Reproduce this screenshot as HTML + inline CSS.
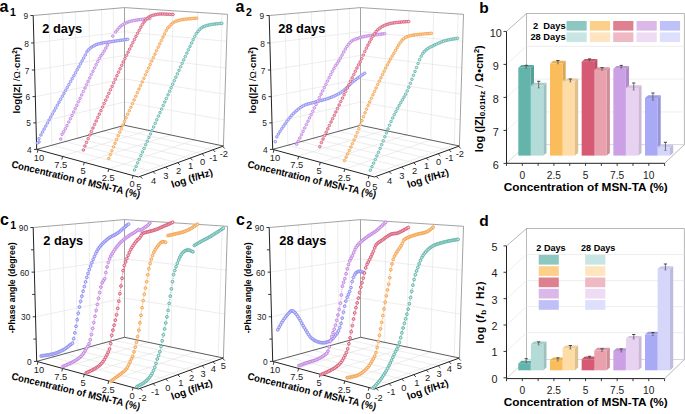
<!DOCTYPE html>
<html><head><meta charset="utf-8"><style>
html,body{margin:0;padding:0;background:#fff;}
svg{display:block;}
text{font-family:"Liberation Sans", sans-serif;}
</style></head><body>
<svg width="685" height="414" viewBox="0 0 685 414">
<rect width="685" height="414" fill="#fff"/>
<g font-family="Liberation Sans, sans-serif">
<line x1="48.99" y1="14.13" x2="51.89" y2="145.23" stroke="#e0e0e0" stroke-width="0.6" />
<line x1="62.6" y1="12.96" x2="64.97" y2="141.64" stroke="#e0e0e0" stroke-width="0.6" />
<line x1="75.38" y1="11.85" x2="77.26" y2="138.27" stroke="#e0e0e0" stroke-width="0.6" />
<line x1="88.98" y1="10.67" x2="90.35" y2="134.67" stroke="#e0e0e0" stroke-width="0.6" />
<line x1="101.67" y1="9.57" x2="102.55" y2="131.32" stroke="#e0e0e0" stroke-width="0.6" />
<line x1="113.36" y1="8.56" x2="113.79" y2="128.24" stroke="#e0e0e0" stroke-width="0.6" />
<line x1="149.74" y1="9.24" x2="148.73" y2="130.37" stroke="#e0e0e0" stroke-width="0.6" />
<line x1="172.91" y1="10.75" x2="170.98" y2="135.03" stroke="#e0e0e0" stroke-width="0.6" />
<line x1="197.63" y1="12.36" x2="194.72" y2="140" stroke="#e0e0e0" stroke-width="0.6" />
<line x1="222.14" y1="13.95" x2="218.26" y2="144.92" stroke="#e0e0e0" stroke-width="0.6" />
<path d="M36.01,122.89 L124.5,102 L224.21,119.92" stroke="#e0e0e0" stroke-width="0.6" fill="none" />
<path d="M35.32,96.64 L124.5,78.93 L225.02,94.11" stroke="#e0e0e0" stroke-width="0.6" fill="none" />
<path d="M34.62,70 L124.5,55.5 L225.83,67.9" stroke="#e0e0e0" stroke-width="0.6" fill="none" />
<path d="M33.92,42.95 L124.5,31.73 L226.66,41.3" stroke="#e0e0e0" stroke-width="0.6" fill="none" />
<line x1="51.89" y1="145.23" x2="153.11" y2="171.64" stroke="#e0e0e0" stroke-width="0.6" />
<line x1="64.97" y1="141.64" x2="165.77" y2="167.02" stroke="#e0e0e0" stroke-width="0.6" />
<line x1="77.26" y1="138.27" x2="177.67" y2="162.68" stroke="#e0e0e0" stroke-width="0.6" />
<line x1="90.35" y1="134.67" x2="190.34" y2="158.06" stroke="#e0e0e0" stroke-width="0.6" />
<line x1="102.55" y1="131.32" x2="202.15" y2="153.75" stroke="#e0e0e0" stroke-width="0.6" />
<line x1="113.79" y1="128.24" x2="213.03" y2="149.78" stroke="#e0e0e0" stroke-width="0.6" />
<line x1="61.62" y1="156.16" x2="148.73" y2="130.37" stroke="#e0e0e0" stroke-width="0.6" />
<line x1="84.5" y1="162.37" x2="170.98" y2="135.03" stroke="#e0e0e0" stroke-width="0.6" />
<line x1="108.91" y1="169" x2="194.72" y2="140" stroke="#e0e0e0" stroke-width="0.6" />
<line x1="133.11" y1="175.56" x2="218.26" y2="144.92" stroke="#e0e0e0" stroke-width="0.6" />
<path d="M33.2,15.5 L124.5,7.6 L227.5,14.3 L223.4,146" stroke="#8c8c8c" stroke-width="0.8" fill="none" />
<line x1="124.5" y1="7.6" x2="124.5" y2="125.3" stroke="#a4a4a4" stroke-width="1.0" />
<path d="M36.7,149.4 L124.5,125.3 L223.4,146" stroke="#333" stroke-width="0.8" fill="none" />
<line x1="33.2" y1="15.5" x2="36.7" y2="149.4" stroke="#222" stroke-width="1.0" />
<path d="M36.7,149.4 L138.4,177 L223.4,146" stroke="#222" stroke-width="1.0" fill="none" />
<line x1="33.9" y1="149.4" x2="36.7" y2="149.4" stroke="#222" stroke-width="0.9" />
<text x="31.6" y="153" font-size="8.4" font-weight="normal" text-anchor="end" fill="#222" >4</text>
<line x1="33.21" y1="122.89" x2="36.01" y2="122.89" stroke="#222" stroke-width="0.9" />
<text x="30.91" y="126.49" font-size="8.4" font-weight="normal" text-anchor="end" fill="#222" >5</text>
<line x1="32.52" y1="96.64" x2="35.32" y2="96.64" stroke="#222" stroke-width="0.9" />
<text x="30.22" y="100.24" font-size="8.4" font-weight="normal" text-anchor="end" fill="#222" >6</text>
<line x1="31.82" y1="70" x2="34.62" y2="70" stroke="#222" stroke-width="0.9" />
<text x="29.52" y="73.6" font-size="8.4" font-weight="normal" text-anchor="end" fill="#222" >7</text>
<line x1="31.12" y1="42.95" x2="33.92" y2="42.95" stroke="#222" stroke-width="0.9" />
<text x="28.82" y="46.55" font-size="8.4" font-weight="normal" text-anchor="end" fill="#222" >8</text>
<line x1="30.4" y1="15.5" x2="33.2" y2="15.5" stroke="#222" stroke-width="0.9" />
<text x="28.1" y="19.1" font-size="8.4" font-weight="normal" text-anchor="end" fill="#222" >9</text>
<line x1="38.02" y1="149.76" x2="37.22" y2="152.76" stroke="#222" stroke-width="0.9" />
<line x1="62.63" y1="156.44" x2="61.83" y2="159.44" stroke="#222" stroke-width="0.9" />
<line x1="84.3" y1="162.32" x2="83.5" y2="165.32" stroke="#222" stroke-width="0.9" />
<line x1="108.81" y1="168.97" x2="108.01" y2="171.97" stroke="#222" stroke-width="0.9" />
<line x1="133.11" y1="175.56" x2="132.31" y2="178.56" stroke="#222" stroke-width="0.9" />
<line x1="140.1" y1="176.38" x2="142.3" y2="178.58" stroke="#222" stroke-width="0.9" />
<line x1="153.11" y1="171.64" x2="155.31" y2="173.84" stroke="#222" stroke-width="0.9" />
<line x1="165.77" y1="167.02" x2="167.97" y2="169.22" stroke="#222" stroke-width="0.9" />
<line x1="177.67" y1="162.68" x2="179.87" y2="164.88" stroke="#222" stroke-width="0.9" />
<line x1="190.34" y1="158.06" x2="192.53" y2="160.26" stroke="#222" stroke-width="0.9" />
<line x1="202.15" y1="153.75" x2="204.35" y2="155.95" stroke="#222" stroke-width="0.9" />
<line x1="213.03" y1="149.78" x2="215.23" y2="151.98" stroke="#222" stroke-width="0.9" />
<line x1="222.55" y1="146.31" x2="224.75" y2="148.51" stroke="#222" stroke-width="0.9" />
<g fill="#d6d6fb" stroke="#8c8cf0" stroke-width="0.85"><circle cx="39" cy="142" r="1.3"/><circle cx="37.35" cy="143.06" r="1.3"/><circle cx="38.98" cy="138.71" r="1.3"/><circle cx="40.9" cy="135" r="1.3"/><circle cx="42.5" cy="132.02" r="1.3"/><circle cx="44.11" cy="129.06" r="1.3"/><circle cx="45.79" cy="126.01" r="1.3"/><circle cx="47.44" cy="123.01" r="1.3"/><circle cx="49.12" cy="119.97" r="1.3"/><circle cx="50.79" cy="116.97" r="1.3"/><circle cx="52.42" cy="114.04" r="1.3"/><circle cx="54.1" cy="111.02" r="1.3"/><circle cx="55.7" cy="108.14" r="1.3"/><circle cx="57.34" cy="105.21" r="1.3"/><circle cx="59" cy="102.24" r="1.3"/><circle cx="60.66" cy="99.26" r="1.3"/><circle cx="62.34" cy="96.27" r="1.3"/><circle cx="64" cy="93.29" r="1.3"/><circle cx="65.66" cy="90.34" r="1.3"/><circle cx="67.29" cy="87.42" r="1.3"/><circle cx="68.89" cy="84.56" r="1.3"/><circle cx="70.57" cy="81.57" r="1.3"/><circle cx="72.19" cy="78.68" r="1.3"/><circle cx="73.85" cy="75.72" r="1.3"/><circle cx="75.51" cy="72.74" r="1.3"/><circle cx="77.16" cy="69.8" r="1.3"/><circle cx="78.81" cy="66.83" r="1.3"/><circle cx="80.47" cy="63.86" r="1.3"/><circle cx="82.09" cy="60.94" r="1.3"/><circle cx="83.69" cy="58.01" r="1.3"/><circle cx="85.28" cy="55.01" r="1.3"/><circle cx="86.85" cy="51.87" r="1.3"/><circle cx="88.5" cy="49.81" r="1.3"/><circle cx="90.17" cy="48.23" r="1.3"/><circle cx="91.86" cy="47.01" r="1.3"/><circle cx="93.56" cy="45.97" r="1.3"/><circle cx="95.25" cy="45.12" r="1.3"/><circle cx="96.95" cy="44.44" r="1.3"/><circle cx="98.66" cy="43.87" r="1.3"/><circle cx="100.36" cy="43.38" r="1.3"/><circle cx="102.06" cy="43" r="1.3"/><circle cx="103.76" cy="42.71" r="1.3"/><circle cx="105.48" cy="42.48" r="1.3"/><circle cx="107.18" cy="42.26" r="1.3"/><circle cx="108.89" cy="42.02" r="1.3"/><circle cx="110.59" cy="41.76" r="1.3"/><circle cx="112.31" cy="41.5" r="1.3"/><circle cx="114.02" cy="41.24" r="1.3"/><circle cx="115.72" cy="40.99" r="1.3"/><circle cx="117.43" cy="40.74" r="1.3"/><circle cx="119.15" cy="40.49" r="1.3"/><circle cx="120.87" cy="40.25" r="1.3"/><circle cx="122.59" cy="40.01" r="1.3"/><circle cx="124.29" cy="39.78" r="1.3"/><circle cx="126" cy="39.55" r="1.3"/><circle cx="127.71" cy="39.32" r="1.3"/></g>
<g fill="#ebd5f5" stroke="#c184e2" stroke-width="0.85"><circle cx="60.8" cy="139" r="1.3"/><circle cx="62.05" cy="134.29" r="1.3"/><circle cx="63.69" cy="131.65" r="1.3"/><circle cx="65.34" cy="128.76" r="1.3"/><circle cx="66.99" cy="125.63" r="1.3"/><circle cx="68.77" cy="122.06" r="1.3"/><circle cx="70.41" cy="118.71" r="1.3"/><circle cx="72.01" cy="115.38" r="1.3"/><circle cx="73.64" cy="111.95" r="1.3"/><circle cx="75.24" cy="108.6" r="1.3"/><circle cx="76.83" cy="105.24" r="1.3"/><circle cx="78.49" cy="101.75" r="1.3"/><circle cx="80.09" cy="98.37" r="1.3"/><circle cx="81.71" cy="94.93" r="1.3"/><circle cx="83.35" cy="91.47" r="1.3"/><circle cx="84.98" cy="88.03" r="1.3"/><circle cx="86.59" cy="84.64" r="1.3"/><circle cx="88.16" cy="81.33" r="1.3"/><circle cx="89.77" cy="77.95" r="1.3"/><circle cx="91.39" cy="74.55" r="1.3"/><circle cx="92.98" cy="71.23" r="1.3"/><circle cx="94.57" cy="67.95" r="1.3"/><circle cx="96.17" cy="64.67" r="1.3"/><circle cx="97.76" cy="61.49" r="1.3"/><circle cx="99.36" cy="58.45" r="1.3"/><circle cx="100.98" cy="55.77" r="1.3"/><circle cx="102.63" cy="53.73" r="1.3"/><circle cx="104.25" cy="50.96" r="1.3"/><circle cx="105.88" cy="48.08" r="1.3"/><circle cx="107.48" cy="45.2" r="1.3"/><circle cx="109.09" cy="42.29" r="1.3"/></g>
<g fill="#ebd5f5" stroke="#c184e2" stroke-width="0.85"><circle cx="112.8" cy="36.1" r="1.3"/></g>
<g fill="#ebd5f5" stroke="#c184e2" stroke-width="0.85"><circle cx="115.6" cy="32" r="1.3"/><circle cx="117.37" cy="29.8" r="1.3"/><circle cx="119.15" cy="27.7" r="1.3"/><circle cx="120.96" cy="25.96" r="1.3"/><circle cx="122.75" cy="24.71" r="1.3"/><circle cx="124.51" cy="23.7" r="1.3"/><circle cx="126.38" cy="22.79" r="1.3"/><circle cx="128.13" cy="22.06" r="1.3"/><circle cx="129.88" cy="21.44" r="1.3"/><circle cx="131.76" cy="20.93" r="1.3"/><circle cx="133.48" cy="20.57" r="1.3"/><circle cx="135.26" cy="20.29" r="1.3"/><circle cx="137.08" cy="20.03" r="1.3"/><circle cx="138.97" cy="19.76" r="1.3"/><circle cx="140.8" cy="19.5" r="1.3"/><circle cx="142.57" cy="19.27" r="1.3"/><circle cx="144.43" cy="19.04" r="1.3"/><circle cx="146.27" cy="18.82" r="1.3"/><circle cx="147.98" cy="18.62" r="1.3"/><circle cx="149.78" cy="18.42" r="1.3"/></g>
<g fill="#f3c6d0" stroke="#d75b78" stroke-width="0.85"><circle cx="83.4" cy="150" r="1.3"/><circle cx="84.94" cy="146.06" r="1.3"/><circle cx="86.49" cy="142.41" r="1.3"/><circle cx="88.17" cy="138.63" r="1.3"/><circle cx="89.8" cy="135" r="1.3"/><circle cx="91.4" cy="131.47" r="1.3"/><circle cx="92.97" cy="128.01" r="1.3"/><circle cx="94.58" cy="124.47" r="1.3"/><circle cx="96.16" cy="121.02" r="1.3"/><circle cx="97.74" cy="117.55" r="1.3"/><circle cx="99.3" cy="114.14" r="1.3"/><circle cx="100.91" cy="110.62" r="1.3"/><circle cx="102.56" cy="107.02" r="1.3"/><circle cx="104.12" cy="103.6" r="1.3"/><circle cx="105.7" cy="100.15" r="1.3"/><circle cx="107.28" cy="96.71" r="1.3"/><circle cx="108.84" cy="93.31" r="1.3"/><circle cx="110.47" cy="89.75" r="1.3"/><circle cx="112.07" cy="86.28" r="1.3"/><circle cx="113.7" cy="82.73" r="1.3"/><circle cx="115.33" cy="79.18" r="1.3"/><circle cx="116.94" cy="75.68" r="1.3"/><circle cx="118.56" cy="72.19" r="1.3"/><circle cx="120.16" cy="68.74" r="1.3"/><circle cx="121.76" cy="65.31" r="1.3"/><circle cx="123.33" cy="61.96" r="1.3"/><circle cx="124.92" cy="58.6" r="1.3"/><circle cx="126.51" cy="55.33" r="1.3"/><circle cx="128.1" cy="52.16" r="1.3"/><circle cx="129.68" cy="49.04" r="1.3"/><circle cx="131.26" cy="45.86" r="1.3"/><circle cx="132.85" cy="42.64" r="1.3"/><circle cx="134.43" cy="39.46" r="1.3"/><circle cx="136.02" cy="36.31" r="1.3"/><circle cx="137.61" cy="33.24" r="1.3"/><circle cx="139.21" cy="30.21" r="1.3"/><circle cx="140.81" cy="27.24" r="1.3"/><circle cx="142.43" cy="24.45" r="1.3"/><circle cx="144.07" cy="22.04" r="1.3"/><circle cx="145.72" cy="19.97" r="1.3"/><circle cx="147.38" cy="18.27" r="1.3"/><circle cx="149.08" cy="16.94" r="1.3"/><circle cx="150.77" cy="15.99" r="1.3"/><circle cx="152.47" cy="15.38" r="1.3"/><circle cx="154.18" cy="14.93" r="1.3"/><circle cx="155.89" cy="14.58" r="1.3"/><circle cx="157.6" cy="14.24" r="1.3"/><circle cx="159.3" cy="14.02" r="1.3"/><circle cx="161.01" cy="13.99" r="1.3"/><circle cx="162.73" cy="14.01" r="1.3"/><circle cx="164.46" cy="14.06" r="1.3"/><circle cx="166.17" cy="14.14" r="1.3"/><circle cx="167.89" cy="14.22" r="1.3"/><circle cx="169.61" cy="14.3" r="1.3"/><circle cx="171.32" cy="14.39" r="1.3"/><circle cx="173.02" cy="14.48" r="1.3"/></g>
<g fill="#fbdcb8" stroke="#f3a24d" stroke-width="0.85"><circle cx="108.8" cy="158.4" r="1.3"/><circle cx="110.33" cy="154.64" r="1.3"/><circle cx="111.87" cy="150.84" r="1.3"/><circle cx="113.47" cy="146.92" r="1.3"/><circle cx="115.02" cy="143.19" r="1.3"/><circle cx="116.6" cy="139.46" r="1.3"/><circle cx="118.15" cy="135.84" r="1.3"/><circle cx="119.74" cy="132.19" r="1.3"/><circle cx="121.3" cy="128.64" r="1.3"/><circle cx="122.9" cy="125.03" r="1.3"/><circle cx="124.48" cy="121.46" r="1.3"/><circle cx="126.08" cy="117.85" r="1.3"/><circle cx="127.68" cy="114.27" r="1.3"/><circle cx="129.25" cy="110.77" r="1.3"/><circle cx="130.85" cy="107.19" r="1.3"/><circle cx="132.48" cy="103.55" r="1.3"/><circle cx="134.12" cy="99.9" r="1.3"/><circle cx="135.76" cy="96.24" r="1.3"/><circle cx="137.39" cy="92.61" r="1.3"/><circle cx="139" cy="89.04" r="1.3"/><circle cx="140.58" cy="85.55" r="1.3"/><circle cx="142.19" cy="81.99" r="1.3"/><circle cx="143.81" cy="78.4" r="1.3"/><circle cx="145.42" cy="74.86" r="1.3"/><circle cx="146.99" cy="71.43" r="1.3"/><circle cx="148.58" cy="67.95" r="1.3"/><circle cx="150.16" cy="64.52" r="1.3"/><circle cx="151.78" cy="61" r="1.3"/><circle cx="153.36" cy="57.58" r="1.3"/><circle cx="154.97" cy="54.11" r="1.3"/><circle cx="156.58" cy="50.66" r="1.3"/><circle cx="158.19" cy="47.24" r="1.3"/><circle cx="159.76" cy="43.91" r="1.3"/><circle cx="161.37" cy="40.5" r="1.3"/><circle cx="162.97" cy="37.16" r="1.3"/><circle cx="164.57" cy="33.88" r="1.3"/><circle cx="166.16" cy="30.7" r="1.3"/><circle cx="167.77" cy="27.94" r="1.3"/><circle cx="169.45" cy="26.43" r="1.3"/><circle cx="171.1" cy="24.43" r="1.3"/><circle cx="172.79" cy="22.95" r="1.3"/><circle cx="174.49" cy="21.94" r="1.3"/><circle cx="176.19" cy="21.2" r="1.3"/><circle cx="177.9" cy="20.62" r="1.3"/><circle cx="179.61" cy="20.14" r="1.3"/><circle cx="181.32" cy="19.78" r="1.3"/><circle cx="183.04" cy="19.5" r="1.3"/><circle cx="184.76" cy="19.27" r="1.3"/><circle cx="186.48" cy="19.06" r="1.3"/><circle cx="188.19" cy="18.87" r="1.3"/><circle cx="189.92" cy="18.71" r="1.3"/><circle cx="191.62" cy="18.57" r="1.3"/><circle cx="193.33" cy="18.44" r="1.3"/><circle cx="195.06" cy="18.32" r="1.3"/><circle cx="196.76" cy="18.19" r="1.3"/></g>
<g fill="#c9e7e3" stroke="#5fb4ab" stroke-width="0.85"><circle cx="134.5" cy="170" r="1.3"/><circle cx="136.09" cy="166.41" r="1.3"/><circle cx="137.68" cy="162.81" r="1.3"/><circle cx="139.24" cy="159.27" r="1.3"/><circle cx="140.88" cy="155.59" r="1.3"/><circle cx="142.48" cy="151.98" r="1.3"/><circle cx="144.07" cy="148.41" r="1.3"/><circle cx="145.71" cy="144.72" r="1.3"/><circle cx="147.3" cy="141.15" r="1.3"/><circle cx="148.89" cy="137.6" r="1.3"/><circle cx="150.49" cy="134.01" r="1.3"/><circle cx="152.05" cy="130.51" r="1.3"/><circle cx="153.61" cy="127" r="1.3"/><circle cx="155.24" cy="123.34" r="1.3"/><circle cx="156.83" cy="119.77" r="1.3"/><circle cx="158.47" cy="116.11" r="1.3"/><circle cx="160.03" cy="112.61" r="1.3"/><circle cx="161.61" cy="109.07" r="1.3"/><circle cx="163.19" cy="105.52" r="1.3"/><circle cx="164.77" cy="101.98" r="1.3"/><circle cx="166.34" cy="98.47" r="1.3"/><circle cx="167.98" cy="94.81" r="1.3"/><circle cx="169.58" cy="91.23" r="1.3"/><circle cx="171.14" cy="87.75" r="1.3"/><circle cx="172.72" cy="84.22" r="1.3"/><circle cx="174.31" cy="80.69" r="1.3"/><circle cx="175.87" cy="77.22" r="1.3"/><circle cx="177.43" cy="73.75" r="1.3"/><circle cx="179.03" cy="70.23" r="1.3"/><circle cx="180.58" cy="66.81" r="1.3"/><circle cx="182.16" cy="63.35" r="1.3"/><circle cx="183.73" cy="59.9" r="1.3"/><circle cx="185.29" cy="56.5" r="1.3"/><circle cx="186.87" cy="53.08" r="1.3"/><circle cx="188.44" cy="49.71" r="1.3"/><circle cx="190.01" cy="46.35" r="1.3"/><circle cx="191.59" cy="43.01" r="1.3"/><circle cx="193.17" cy="39.7" r="1.3"/><circle cx="194.77" cy="36.44" r="1.3"/><circle cx="196.37" cy="33.42" r="1.3"/><circle cx="198.02" cy="31.47" r="1.3"/><circle cx="199.67" cy="29.45" r="1.3"/><circle cx="201.35" cy="27.94" r="1.3"/><circle cx="203.05" cy="26.92" r="1.3"/><circle cx="204.75" cy="26.2" r="1.3"/><circle cx="206.45" cy="25.64" r="1.3"/><circle cx="208.15" cy="25.16" r="1.3"/><circle cx="209.86" cy="24.77" r="1.3"/><circle cx="211.57" cy="24.47" r="1.3"/><circle cx="213.29" cy="24.23" r="1.3"/><circle cx="215" cy="24" r="1.3"/><circle cx="216.72" cy="23.8" r="1.3"/><circle cx="218.42" cy="23.63" r="1.3"/><circle cx="220.12" cy="23.48" r="1.3"/><circle cx="221.84" cy="23.33" r="1.3"/></g>
<line x1="284.99" y1="14.13" x2="287.89" y2="145.23" stroke="#e0e0e0" stroke-width="0.6" />
<line x1="298.6" y1="12.96" x2="300.97" y2="141.64" stroke="#e0e0e0" stroke-width="0.6" />
<line x1="311.38" y1="11.85" x2="313.26" y2="138.27" stroke="#e0e0e0" stroke-width="0.6" />
<line x1="324.98" y1="10.67" x2="326.35" y2="134.67" stroke="#e0e0e0" stroke-width="0.6" />
<line x1="337.68" y1="9.57" x2="338.55" y2="131.32" stroke="#e0e0e0" stroke-width="0.6" />
<line x1="349.36" y1="8.56" x2="349.79" y2="128.24" stroke="#e0e0e0" stroke-width="0.6" />
<line x1="385.74" y1="9.24" x2="384.73" y2="130.37" stroke="#e0e0e0" stroke-width="0.6" />
<line x1="408.91" y1="10.75" x2="406.98" y2="135.03" stroke="#e0e0e0" stroke-width="0.6" />
<line x1="433.63" y1="12.36" x2="430.72" y2="140" stroke="#e0e0e0" stroke-width="0.6" />
<line x1="458.14" y1="13.95" x2="454.26" y2="144.92" stroke="#e0e0e0" stroke-width="0.6" />
<path d="M272.01,122.89 L360.5,102 L460.21,119.92" stroke="#e0e0e0" stroke-width="0.6" fill="none" />
<path d="M271.32,96.64 L360.5,78.93 L461.02,94.11" stroke="#e0e0e0" stroke-width="0.6" fill="none" />
<path d="M270.62,70 L360.5,55.5 L461.83,67.9" stroke="#e0e0e0" stroke-width="0.6" fill="none" />
<path d="M269.92,42.95 L360.5,31.73 L462.66,41.3" stroke="#e0e0e0" stroke-width="0.6" fill="none" />
<line x1="287.89" y1="145.23" x2="389.1" y2="171.64" stroke="#e0e0e0" stroke-width="0.6" />
<line x1="300.97" y1="141.64" x2="401.77" y2="167.02" stroke="#e0e0e0" stroke-width="0.6" />
<line x1="313.26" y1="138.27" x2="413.67" y2="162.68" stroke="#e0e0e0" stroke-width="0.6" />
<line x1="326.35" y1="134.67" x2="426.33" y2="158.06" stroke="#e0e0e0" stroke-width="0.6" />
<line x1="338.55" y1="131.32" x2="438.15" y2="153.75" stroke="#e0e0e0" stroke-width="0.6" />
<line x1="349.79" y1="128.24" x2="449.03" y2="149.78" stroke="#e0e0e0" stroke-width="0.6" />
<line x1="297.62" y1="156.16" x2="384.73" y2="130.37" stroke="#e0e0e0" stroke-width="0.6" />
<line x1="320.5" y1="162.37" x2="406.98" y2="135.03" stroke="#e0e0e0" stroke-width="0.6" />
<line x1="344.91" y1="169" x2="430.72" y2="140" stroke="#e0e0e0" stroke-width="0.6" />
<line x1="369.11" y1="175.56" x2="454.26" y2="144.92" stroke="#e0e0e0" stroke-width="0.6" />
<path d="M269.2,15.5 L360.5,7.6 L463.5,14.3 L459.4,146" stroke="#8c8c8c" stroke-width="0.8" fill="none" />
<line x1="360.5" y1="7.6" x2="360.5" y2="125.3" stroke="#a4a4a4" stroke-width="1.0" />
<path d="M272.7,149.4 L360.5,125.3 L459.4,146" stroke="#333" stroke-width="0.8" fill="none" />
<line x1="269.2" y1="15.5" x2="272.7" y2="149.4" stroke="#222" stroke-width="1.0" />
<path d="M272.7,149.4 L374.4,177 L459.4,146" stroke="#222" stroke-width="1.0" fill="none" />
<line x1="269.9" y1="149.4" x2="272.7" y2="149.4" stroke="#222" stroke-width="0.9" />
<text x="267.6" y="153" font-size="8.4" font-weight="normal" text-anchor="end" fill="#222" >4</text>
<line x1="269.21" y1="122.89" x2="272.01" y2="122.89" stroke="#222" stroke-width="0.9" />
<text x="266.91" y="126.49" font-size="8.4" font-weight="normal" text-anchor="end" fill="#222" >5</text>
<line x1="268.52" y1="96.64" x2="271.32" y2="96.64" stroke="#222" stroke-width="0.9" />
<text x="266.22" y="100.24" font-size="8.4" font-weight="normal" text-anchor="end" fill="#222" >6</text>
<line x1="267.82" y1="70" x2="270.62" y2="70" stroke="#222" stroke-width="0.9" />
<text x="265.52" y="73.6" font-size="8.4" font-weight="normal" text-anchor="end" fill="#222" >7</text>
<line x1="267.12" y1="42.95" x2="269.92" y2="42.95" stroke="#222" stroke-width="0.9" />
<text x="264.82" y="46.55" font-size="8.4" font-weight="normal" text-anchor="end" fill="#222" >8</text>
<line x1="266.4" y1="15.5" x2="269.2" y2="15.5" stroke="#222" stroke-width="0.9" />
<text x="264.1" y="19.1" font-size="8.4" font-weight="normal" text-anchor="end" fill="#222" >9</text>
<line x1="274.02" y1="149.76" x2="273.22" y2="152.76" stroke="#222" stroke-width="0.9" />
<line x1="298.63" y1="156.44" x2="297.83" y2="159.44" stroke="#222" stroke-width="0.9" />
<line x1="320.3" y1="162.32" x2="319.5" y2="165.32" stroke="#222" stroke-width="0.9" />
<line x1="344.81" y1="168.97" x2="344.01" y2="171.97" stroke="#222" stroke-width="0.9" />
<line x1="369.11" y1="175.56" x2="368.31" y2="178.56" stroke="#222" stroke-width="0.9" />
<line x1="376.1" y1="176.38" x2="378.3" y2="178.58" stroke="#222" stroke-width="0.9" />
<line x1="389.1" y1="171.64" x2="391.3" y2="173.84" stroke="#222" stroke-width="0.9" />
<line x1="401.77" y1="167.02" x2="403.97" y2="169.22" stroke="#222" stroke-width="0.9" />
<line x1="413.67" y1="162.68" x2="415.87" y2="164.88" stroke="#222" stroke-width="0.9" />
<line x1="426.33" y1="158.06" x2="428.53" y2="160.26" stroke="#222" stroke-width="0.9" />
<line x1="438.15" y1="153.75" x2="440.35" y2="155.95" stroke="#222" stroke-width="0.9" />
<line x1="449.03" y1="149.78" x2="451.23" y2="151.98" stroke="#222" stroke-width="0.9" />
<line x1="458.55" y1="146.31" x2="460.75" y2="148.51" stroke="#222" stroke-width="0.9" />
<g fill="#d6d6fb" stroke="#8c8cf0" stroke-width="0.85"><circle cx="275.3" cy="141.7" r="1.3"/><circle cx="276.8" cy="136.84" r="1.3"/><circle cx="278.41" cy="134" r="1.3"/><circle cx="280.06" cy="131.41" r="1.3"/><circle cx="281.8" cy="128.78" r="1.3"/><circle cx="283.43" cy="126.37" r="1.3"/><circle cx="285.11" cy="123.95" r="1.3"/><circle cx="286.76" cy="121.63" r="1.3"/><circle cx="288.43" cy="119.38" r="1.3"/><circle cx="290.1" cy="117.26" r="1.3"/><circle cx="291.76" cy="115.34" r="1.3"/><circle cx="293.44" cy="113.56" r="1.3"/><circle cx="295.12" cy="111.93" r="1.3"/><circle cx="296.8" cy="110.43" r="1.3"/><circle cx="298.52" cy="108.96" r="1.3"/><circle cx="300.24" cy="107.6" r="1.3"/><circle cx="301.95" cy="106.48" r="1.3"/><circle cx="303.69" cy="105.58" r="1.3"/><circle cx="305.41" cy="104.82" r="1.3"/><circle cx="307.12" cy="104.22" r="1.3"/><circle cx="308.83" cy="103.74" r="1.3"/><circle cx="310.62" cy="103.28" r="1.3"/><circle cx="312.41" cy="102.79" r="1.3"/><circle cx="314.24" cy="102.28" r="1.3"/><circle cx="315.95" cy="101.83" r="1.3"/><circle cx="317.68" cy="101.39" r="1.3"/><circle cx="319.51" cy="100.92" r="1.3"/><circle cx="321.23" cy="100.48" r="1.3"/><circle cx="322.96" cy="100.01" r="1.3"/><circle cx="324.68" cy="99.53" r="1.3"/><circle cx="326.51" cy="98.98" r="1.3"/><circle cx="328.23" cy="98.42" r="1.3"/><circle cx="329.96" cy="97.79" r="1.3"/><circle cx="331.71" cy="97.1" r="1.3"/><circle cx="333.51" cy="96.35" r="1.3"/><circle cx="335.25" cy="95.56" r="1.3"/><circle cx="337.04" cy="94.68" r="1.3"/><circle cx="338.79" cy="93.73" r="1.3"/><circle cx="340.51" cy="92.69" r="1.3"/><circle cx="342.23" cy="91.54" r="1.3"/><circle cx="344.01" cy="90.15" r="1.3"/><circle cx="345.72" cy="88.62" r="1.3"/><circle cx="347.4" cy="86.99" r="1.3"/><circle cx="349.17" cy="85.23" r="1.3"/><circle cx="350.84" cy="83.6" r="1.3"/><circle cx="352.56" cy="82.06" r="1.3"/><circle cx="354.28" cy="80.69" r="1.3"/><circle cx="356.05" cy="79.34" r="1.3"/><circle cx="357.77" cy="78.09" r="1.3"/><circle cx="359.47" cy="76.87" r="1.3"/><circle cx="361.21" cy="75.65" r="1.3"/><circle cx="362.96" cy="74.43" r="1.3"/><circle cx="364.7" cy="73.2" r="1.3"/></g>
<g fill="#ebd5f5" stroke="#c184e2" stroke-width="0.85"><circle cx="296.6" cy="144.2" r="1.3"/><circle cx="298.25" cy="141.16" r="1.3"/><circle cx="299.84" cy="137.97" r="1.3"/><circle cx="301.46" cy="134.68" r="1.3"/><circle cx="303.09" cy="131.32" r="1.3"/><circle cx="304.71" cy="127.99" r="1.3"/><circle cx="306.36" cy="124.58" r="1.3"/><circle cx="307.97" cy="121.24" r="1.3"/><circle cx="309.58" cy="117.9" r="1.3"/><circle cx="311.16" cy="114.63" r="1.3"/><circle cx="312.78" cy="111.27" r="1.3"/><circle cx="314.44" cy="107.84" r="1.3"/><circle cx="316.11" cy="104.39" r="1.3"/><circle cx="317.78" cy="100.94" r="1.3"/><circle cx="319.44" cy="97.52" r="1.3"/><circle cx="321.06" cy="94.17" r="1.3"/><circle cx="322.65" cy="90.91" r="1.3"/><circle cx="324.26" cy="87.6" r="1.3"/><circle cx="325.88" cy="84.29" r="1.3"/><circle cx="327.47" cy="81.07" r="1.3"/><circle cx="329.11" cy="77.77" r="1.3"/><circle cx="330.73" cy="74.56" r="1.3"/><circle cx="332.35" cy="71.43" r="1.3"/><circle cx="333.96" cy="68.46" r="1.3"/><circle cx="335.58" cy="65.7" r="1.3"/><circle cx="337.22" cy="63.29" r="1.3"/><circle cx="338.86" cy="60.91" r="1.3"/><circle cx="340.46" cy="58.1" r="1.3"/><circle cx="342.08" cy="55.1" r="1.3"/><circle cx="343.68" cy="52.06" r="1.3"/><circle cx="345.3" cy="49.16" r="1.3"/><circle cx="346.92" cy="46.59" r="1.3"/><circle cx="348.56" cy="44.31" r="1.3"/><circle cx="350.24" cy="42.42" r="1.3"/><circle cx="351.91" cy="40.94" r="1.3"/><circle cx="353.6" cy="39.93" r="1.3"/><circle cx="355.3" cy="39.26" r="1.3"/><circle cx="357.02" cy="38.63" r="1.3"/><circle cx="358.72" cy="38.03" r="1.3"/><circle cx="360.43" cy="37.49" r="1.3"/><circle cx="362.15" cy="37.03" r="1.3"/><circle cx="363.88" cy="36.62" r="1.3"/><circle cx="365.6" cy="36.27" r="1.3"/><circle cx="367.33" cy="35.97" r="1.3"/><circle cx="369.07" cy="35.7" r="1.3"/><circle cx="370.8" cy="35.45" r="1.3"/><circle cx="372.5" cy="35.21" r="1.3"/><circle cx="374.26" cy="34.98" r="1.3"/><circle cx="375.97" cy="34.75" r="1.3"/><circle cx="377.74" cy="34.53" r="1.3"/><circle cx="379.45" cy="34.31" r="1.3"/><circle cx="381.2" cy="34.09" r="1.3"/><circle cx="382.9" cy="33.88" r="1.3"/><circle cx="384.64" cy="33.66" r="1.3"/></g>
<g fill="#f3c6d0" stroke="#d75b78" stroke-width="0.85"><circle cx="319.8" cy="146.7" r="1.3"/><circle cx="321.4" cy="142.6" r="1.3"/><circle cx="323.03" cy="139" r="1.3"/><circle cx="324.63" cy="135.57" r="1.3"/><circle cx="326.22" cy="132.21" r="1.3"/><circle cx="327.82" cy="128.83" r="1.3"/><circle cx="329.4" cy="125.49" r="1.3"/><circle cx="331.05" cy="122.03" r="1.3"/><circle cx="332.62" cy="118.73" r="1.3"/><circle cx="334.26" cy="115.29" r="1.3"/><circle cx="335.86" cy="111.94" r="1.3"/><circle cx="337.49" cy="108.52" r="1.3"/><circle cx="339.14" cy="105.06" r="1.3"/><circle cx="340.8" cy="101.59" r="1.3"/><circle cx="342.45" cy="98.14" r="1.3"/><circle cx="344.07" cy="94.74" r="1.3"/><circle cx="345.66" cy="91.42" r="1.3"/><circle cx="347.29" cy="88.02" r="1.3"/><circle cx="348.93" cy="84.59" r="1.3"/><circle cx="350.55" cy="81.22" r="1.3"/><circle cx="352.17" cy="77.85" r="1.3"/><circle cx="353.76" cy="74.53" r="1.3"/><circle cx="355.34" cy="71.26" r="1.3"/><circle cx="356.95" cy="67.99" r="1.3"/><circle cx="358.54" cy="64.82" r="1.3"/><circle cx="360.14" cy="61.9" r="1.3"/><circle cx="361.72" cy="58.68" r="1.3"/><circle cx="363.27" cy="55.06" r="1.3"/><circle cx="364.81" cy="51.48" r="1.3"/><circle cx="366.39" cy="48.23" r="1.3"/><circle cx="367.98" cy="45.13" r="1.3"/><circle cx="369.57" cy="42.09" r="1.3"/><circle cx="371.18" cy="39.13" r="1.3"/><circle cx="372.8" cy="36.32" r="1.3"/><circle cx="374.42" cy="33.78" r="1.3"/><circle cx="376.08" cy="31.6" r="1.3"/><circle cx="377.76" cy="29.85" r="1.3"/><circle cx="379.44" cy="28.44" r="1.3"/><circle cx="381.12" cy="27.19" r="1.3"/><circle cx="382.82" cy="26.19" r="1.3"/><circle cx="384.53" cy="25.38" r="1.3"/><circle cx="386.24" cy="24.7" r="1.3"/><circle cx="387.95" cy="24.12" r="1.3"/><circle cx="389.65" cy="23.64" r="1.3"/><circle cx="391.37" cy="23.27" r="1.3"/><circle cx="393.09" cy="22.98" r="1.3"/><circle cx="394.8" cy="22.73" r="1.3"/><circle cx="396.53" cy="22.51" r="1.3"/><circle cx="398.25" cy="22.34" r="1.3"/><circle cx="399.99" cy="22.17" r="1.3"/><circle cx="401.74" cy="22.02" r="1.3"/><circle cx="403.48" cy="21.88" r="1.3"/><circle cx="405.2" cy="21.74" r="1.3"/><circle cx="406.94" cy="21.61" r="1.3"/><circle cx="408.65" cy="21.47" r="1.3"/></g>
<g fill="#fbdcb8" stroke="#f3a24d" stroke-width="0.85"><circle cx="344.5" cy="160.6" r="1.3"/><circle cx="346.1" cy="157.19" r="1.3"/><circle cx="347.67" cy="153.88" r="1.3"/><circle cx="349.29" cy="150.46" r="1.3"/><circle cx="350.92" cy="146.98" r="1.3"/><circle cx="352.48" cy="143.6" r="1.3"/><circle cx="354.12" cy="139.99" r="1.3"/><circle cx="355.74" cy="136.29" r="1.3"/><circle cx="357.31" cy="132.57" r="1.3"/><circle cx="358.86" cy="128.68" r="1.3"/><circle cx="360.4" cy="124.72" r="1.3"/><circle cx="361.95" cy="120.67" r="1.3"/><circle cx="363.49" cy="116.71" r="1.3"/><circle cx="365.02" cy="112.86" r="1.3"/><circle cx="366.57" cy="109.11" r="1.3"/><circle cx="368.12" cy="105.5" r="1.3"/><circle cx="369.72" cy="101.9" r="1.3"/><circle cx="371.35" cy="98.29" r="1.3"/><circle cx="372.97" cy="94.76" r="1.3"/><circle cx="374.53" cy="91.38" r="1.3"/><circle cx="376.1" cy="88.02" r="1.3"/><circle cx="377.74" cy="84.53" r="1.3"/><circle cx="379.33" cy="81.17" r="1.3"/><circle cx="380.92" cy="77.84" r="1.3"/><circle cx="382.53" cy="74.49" r="1.3"/><circle cx="384.14" cy="71.2" r="1.3"/><circle cx="385.74" cy="68" r="1.3"/><circle cx="387.35" cy="64.9" r="1.3"/><circle cx="388.98" cy="61.91" r="1.3"/><circle cx="390.62" cy="59" r="1.3"/><circle cx="392.24" cy="56.12" r="1.3"/><circle cx="393.85" cy="53.27" r="1.3"/><circle cx="395.47" cy="50.45" r="1.3"/><circle cx="397.08" cy="47.7" r="1.3"/><circle cx="398.72" cy="45" r="1.3"/><circle cx="400.36" cy="42.47" r="1.3"/><circle cx="402.01" cy="40.26" r="1.3"/><circle cx="403.7" cy="38.73" r="1.3"/><circle cx="405.41" cy="37.51" r="1.3"/><circle cx="407.1" cy="36.64" r="1.3"/><circle cx="408.82" cy="36.05" r="1.3"/><circle cx="410.54" cy="35.61" r="1.3"/><circle cx="412.28" cy="35.27" r="1.3"/><circle cx="413.98" cy="35.01" r="1.3"/><circle cx="415.73" cy="34.77" r="1.3"/><circle cx="417.43" cy="34.57" r="1.3"/><circle cx="419.19" cy="34.37" r="1.3"/><circle cx="420.89" cy="34.2" r="1.3"/><circle cx="422.68" cy="34.04" r="1.3"/><circle cx="424.46" cy="33.89" r="1.3"/><circle cx="426.25" cy="33.74" r="1.3"/><circle cx="427.99" cy="33.6" r="1.3"/><circle cx="429.69" cy="33.47" r="1.3"/><circle cx="431.45" cy="33.33" r="1.3"/></g>
<g fill="#c9e7e3" stroke="#5fb4ab" stroke-width="0.85"><circle cx="370.4" cy="170.2" r="1.3"/><circle cx="372.01" cy="166.64" r="1.3"/><circle cx="373.61" cy="163.14" r="1.3"/><circle cx="375.24" cy="159.55" r="1.3"/><circle cx="376.86" cy="155.93" r="1.3"/><circle cx="378.49" cy="152.27" r="1.3"/><circle cx="380.11" cy="148.5" r="1.3"/><circle cx="381.7" cy="144.69" r="1.3"/><circle cx="383.27" cy="140.82" r="1.3"/><circle cx="384.87" cy="136.81" r="1.3"/><circle cx="386.45" cy="132.81" r="1.3"/><circle cx="388" cy="128.95" r="1.3"/><circle cx="389.53" cy="125.2" r="1.3"/><circle cx="391.11" cy="121.49" r="1.3"/><circle cx="392.7" cy="117.96" r="1.3"/><circle cx="394.29" cy="114.64" r="1.3"/><circle cx="395.89" cy="111.5" r="1.3"/><circle cx="397.5" cy="108.44" r="1.3"/><circle cx="399.11" cy="105.49" r="1.3"/><circle cx="400.77" cy="102.66" r="1.3"/><circle cx="402.42" cy="99.91" r="1.3"/><circle cx="404.06" cy="97.1" r="1.3"/><circle cx="405.66" cy="94.18" r="1.3"/><circle cx="407.28" cy="90.84" r="1.3"/><circle cx="408.86" cy="87.15" r="1.3"/><circle cx="410.39" cy="83.31" r="1.3"/><circle cx="411.94" cy="79.28" r="1.3"/><circle cx="413.48" cy="75.3" r="1.3"/><circle cx="415.01" cy="71.47" r="1.3"/><circle cx="416.52" cy="67.55" r="1.3"/><circle cx="418.08" cy="63.53" r="1.3"/><circle cx="419.62" cy="59.7" r="1.3"/><circle cx="421.2" cy="56.2" r="1.3"/><circle cx="422.81" cy="53.36" r="1.3"/><circle cx="424.48" cy="51.38" r="1.3"/><circle cx="426.15" cy="49.86" r="1.3"/><circle cx="427.85" cy="48.51" r="1.3"/><circle cx="429.56" cy="47.48" r="1.3"/><circle cx="431.28" cy="46.6" r="1.3"/><circle cx="433.02" cy="45.75" r="1.3"/><circle cx="434.78" cy="44.9" r="1.3"/><circle cx="436.54" cy="44.07" r="1.3"/><circle cx="438.33" cy="43.27" r="1.3"/><circle cx="440.08" cy="42.52" r="1.3"/><circle cx="441.86" cy="41.81" r="1.3"/><circle cx="443.64" cy="41.18" r="1.3"/><circle cx="445.39" cy="40.63" r="1.3"/><circle cx="447.1" cy="40.19" r="1.3"/><circle cx="448.81" cy="39.8" r="1.3"/><circle cx="450.58" cy="39.45" r="1.3"/><circle cx="452.35" cy="39.12" r="1.3"/><circle cx="454.05" cy="38.83" r="1.3"/><circle cx="455.84" cy="38.54" r="1.3"/><circle cx="457.55" cy="38.26" r="1.3"/></g>
<line x1="48.99" y1="226.13" x2="51.89" y2="357.23" stroke="#e0e0e0" stroke-width="0.6" />
<line x1="62.6" y1="224.96" x2="64.97" y2="353.64" stroke="#e0e0e0" stroke-width="0.6" />
<line x1="75.38" y1="223.85" x2="77.26" y2="350.27" stroke="#e0e0e0" stroke-width="0.6" />
<line x1="88.98" y1="222.67" x2="90.35" y2="346.67" stroke="#e0e0e0" stroke-width="0.6" />
<line x1="101.67" y1="221.57" x2="102.55" y2="343.32" stroke="#e0e0e0" stroke-width="0.6" />
<line x1="113.36" y1="220.56" x2="113.79" y2="340.24" stroke="#e0e0e0" stroke-width="0.6" />
<line x1="149.74" y1="221.24" x2="148.73" y2="342.37" stroke="#e0e0e0" stroke-width="0.6" />
<line x1="172.91" y1="222.75" x2="170.98" y2="347.03" stroke="#e0e0e0" stroke-width="0.6" />
<line x1="197.63" y1="224.36" x2="194.72" y2="352" stroke="#e0e0e0" stroke-width="0.6" />
<line x1="222.14" y1="225.95" x2="218.26" y2="356.92" stroke="#e0e0e0" stroke-width="0.6" />
<path d="M35.53,316.77 L124.5,298.07 L224.77,314.1" stroke="#e0e0e0" stroke-width="0.6" fill="none" />
<path d="M34.37,272.13 L124.5,258.83 L226.13,270.2" stroke="#e0e0e0" stroke-width="0.6" fill="none" />
<line x1="51.89" y1="357.23" x2="153.11" y2="383.64" stroke="#e0e0e0" stroke-width="0.6" />
<line x1="64.97" y1="353.64" x2="165.77" y2="379.02" stroke="#e0e0e0" stroke-width="0.6" />
<line x1="77.26" y1="350.27" x2="177.67" y2="374.68" stroke="#e0e0e0" stroke-width="0.6" />
<line x1="90.35" y1="346.67" x2="190.34" y2="370.06" stroke="#e0e0e0" stroke-width="0.6" />
<line x1="102.55" y1="343.32" x2="202.15" y2="365.75" stroke="#e0e0e0" stroke-width="0.6" />
<line x1="113.79" y1="340.24" x2="213.03" y2="361.78" stroke="#e0e0e0" stroke-width="0.6" />
<line x1="61.62" y1="368.16" x2="148.73" y2="342.37" stroke="#e0e0e0" stroke-width="0.6" />
<line x1="84.5" y1="374.37" x2="170.98" y2="347.03" stroke="#e0e0e0" stroke-width="0.6" />
<line x1="108.91" y1="381" x2="194.72" y2="352" stroke="#e0e0e0" stroke-width="0.6" />
<line x1="133.11" y1="387.56" x2="218.26" y2="356.92" stroke="#e0e0e0" stroke-width="0.6" />
<path d="M33.2,227.5 L124.5,219.6 L227.5,226.3 L223.4,358" stroke="#8c8c8c" stroke-width="0.8" fill="none" />
<line x1="124.5" y1="219.6" x2="124.5" y2="337.3" stroke="#a4a4a4" stroke-width="1.0" />
<path d="M36.7,361.4 L124.5,337.3 L223.4,358" stroke="#333" stroke-width="0.8" fill="none" />
<line x1="33.2" y1="227.5" x2="36.7" y2="361.4" stroke="#222" stroke-width="1.0" />
<path d="M36.7,361.4 L138.4,389 L223.4,358" stroke="#222" stroke-width="1.0" fill="none" />
<line x1="33.9" y1="361.4" x2="36.7" y2="361.4" stroke="#222" stroke-width="0.9" />
<text x="31.6" y="365" font-size="8.4" font-weight="normal" text-anchor="end" fill="#222" >0</text>
<line x1="33.32" y1="339.08" x2="36.12" y2="339.08" stroke="#222" stroke-width="0.9" />
<line x1="32.73" y1="316.77" x2="35.53" y2="316.77" stroke="#222" stroke-width="0.9" />
<text x="30.43" y="320.37" font-size="8.4" font-weight="normal" text-anchor="end" fill="#222" >30</text>
<line x1="32.15" y1="294.45" x2="34.95" y2="294.45" stroke="#222" stroke-width="0.9" />
<line x1="31.57" y1="272.13" x2="34.37" y2="272.13" stroke="#222" stroke-width="0.9" />
<text x="29.27" y="275.73" font-size="8.4" font-weight="normal" text-anchor="end" fill="#222" >60</text>
<line x1="30.98" y1="249.82" x2="33.78" y2="249.82" stroke="#222" stroke-width="0.9" />
<line x1="30.4" y1="227.5" x2="33.2" y2="227.5" stroke="#222" stroke-width="0.9" />
<text x="28.1" y="231.1" font-size="8.4" font-weight="normal" text-anchor="end" fill="#222" >90</text>
<line x1="38.02" y1="361.76" x2="37.22" y2="364.76" stroke="#222" stroke-width="0.9" />
<line x1="62.63" y1="368.44" x2="61.83" y2="371.44" stroke="#222" stroke-width="0.9" />
<line x1="84.3" y1="374.32" x2="83.5" y2="377.32" stroke="#222" stroke-width="0.9" />
<line x1="108.81" y1="380.97" x2="108.01" y2="383.97" stroke="#222" stroke-width="0.9" />
<line x1="133.11" y1="387.56" x2="132.31" y2="390.56" stroke="#222" stroke-width="0.9" />
<line x1="140.1" y1="388.38" x2="142.3" y2="390.58" stroke="#222" stroke-width="0.9" />
<line x1="153.11" y1="383.64" x2="155.31" y2="385.84" stroke="#222" stroke-width="0.9" />
<line x1="165.77" y1="379.02" x2="167.97" y2="381.22" stroke="#222" stroke-width="0.9" />
<line x1="177.67" y1="374.68" x2="179.87" y2="376.88" stroke="#222" stroke-width="0.9" />
<line x1="190.34" y1="370.06" x2="192.53" y2="372.26" stroke="#222" stroke-width="0.9" />
<line x1="202.15" y1="365.75" x2="204.35" y2="367.95" stroke="#222" stroke-width="0.9" />
<line x1="213.03" y1="361.78" x2="215.23" y2="363.98" stroke="#222" stroke-width="0.9" />
<line x1="222.55" y1="358.31" x2="224.75" y2="360.51" stroke="#222" stroke-width="0.9" />
<path d="M41.2,356 L42.64,355.77 L44.67,355.47 L47.05,355.11 L49.57,354.69 L51.99,354.21 L54.1,353.7 L55.93,353.13 L57.66,352.49 L59.31,351.81 L60.86,351.09 L62.32,350.34 L63.7,349.6 L64.99,348.84 L66.19,348.05 L67.29,347.24 L68.31,346.43 L69.25,345.61 L70.1,344.8 L70.79,344.34 L71.31,344.3 L71.75,344.26 L72.19,343.81 L72.71,342.52 L73.4,340 L73.7,338.72 L74.02,337.22 L74.36,335.51 L74.72,333.64 L75.09,331.61 L75.47,329.47 L75.87,327.23 L76.27,324.93 L76.68,322.58 L77.09,320.21 L77.5,317.86 L77.9,315.54 L78.3,313.28 L78.7,311.12 L79.08,309.06 L79.45,307.15 L79.8,305.4 L80.14,303.77 L80.48,302.2 L80.82,300.68 L81.16,299.21 L81.49,297.79 L81.82,296.41 L82.15,295.08 L82.47,293.79 L82.78,292.54 L83.09,291.32 L83.4,290.14 L83.7,289 L83.99,287.89 L84.28,286.8 L84.56,285.74 L84.83,284.71 L85.1,283.7 L85.35,282.73 L85.6,281.82 L85.83,280.96 L86.05,280.14 L86.26,279.37 L86.47,278.64 L86.67,277.93 L86.87,277.25 L87.06,276.59 L87.25,275.95 L87.45,275.31 L87.64,274.68 L87.84,274.05 L88.04,273.41 L88.25,272.76 L88.47,272.09 L88.7,271.4 L88.93,270.7 L89.17,269.99 L89.42,269.28 L89.66,268.58 L89.91,267.87 L90.16,267.17 L90.42,266.46 L90.67,265.77 L90.93,265.07 L91.19,264.38 L91.45,263.7 L91.71,263.03 L91.97,262.36 L92.23,261.71 L92.49,261.06 L92.74,260.42 L93,259.8 L93.26,259.18 L93.51,258.57 L93.77,257.96 L94.03,257.36 L94.29,256.76 L94.55,256.17 L94.81,255.59 L95.07,255.02 L95.33,254.46 L95.59,253.9 L95.85,253.36 L96.11,252.83 L96.37,252.32 L96.63,251.82 L96.89,251.33 L97.14,250.86 L97.4,250.4 L97.65,249.97 L97.89,249.56 L98.13,249.17 L98.36,248.8 L98.58,248.45 L98.8,248.12 L99.03,247.8 L99.25,247.48 L99.48,247.17 L99.72,246.87 L99.96,246.56 L100.22,246.25 L100.48,245.94 L100.76,245.63 L101.06,245.3 L101.37,244.96 L101.7,244.6 L102.05,244.23 L102.41,243.85 L102.79,243.46 L103.18,243.07 L103.58,242.67 L104,242.27 L104.42,241.86 L104.86,241.45 L105.3,241.05 L105.74,240.64 L106.2,240.24 L106.66,239.85 L107.12,239.46 L107.59,239.08 L108.06,238.71 L108.53,238.35 L109,238 L109.48,237.67 L109.96,237.35 L110.45,237.05 L110.95,236.76 L111.46,236.48 L111.97,236.21 L112.48,235.94 L113,235.68 L113.52,235.41 L114.05,235.14 L114.57,234.87 L115.1,234.59 L115.62,234.3 L116.15,234 L116.67,233.68 L117.19,233.35 L117.7,233 L118.22,232.62 L118.76,232.21 L119.31,231.78 L119.88,231.33 L120.45,230.86 L121.02,230.38 L121.59,229.89 L122.15,229.4 L122.71,228.91 L123.25,228.44 L123.78,227.97 L124.29,227.52 L124.77,227.09 L125.23,226.69 L125.66,226.33 L126.05,225.99 L126.4,225.7 L126.72,225.44 L127,225.22 L127.26,225.02 L127.49,224.84 L127.69,224.69 L127.87,224.55 L128.03,224.44 L128.18,224.34 L128.31,224.25 L128.42,224.18 L128.52,224.11 L128.61,224.05 L128.7,224 L128.77,223.95 L128.85,223.9 L128.92,223.85 L129,223.8" stroke="#8c8cf0" stroke-width="0.75" fill="none" stroke-dasharray="1.3 1.1"/>
<g fill="#d6d6fb" stroke="#8c8cf0" stroke-width="0.95"><circle cx="41.2" cy="356" r="1.4"/><circle cx="42.51" cy="355.79" r="1.4"/><circle cx="43.93" cy="355.58" r="1.4"/><circle cx="45.37" cy="355.36" r="1.4"/><circle cx="46.71" cy="355.16" r="1.4"/><circle cx="48.09" cy="354.94" r="1.4"/><circle cx="49.49" cy="354.7" r="1.4"/><circle cx="50.86" cy="354.44" r="1.4"/><circle cx="52.17" cy="354.18" r="1.4"/><circle cx="53.56" cy="353.85" r="1.4"/><circle cx="54.96" cy="353.45" r="1.4"/><circle cx="56.28" cy="353.01" r="1.4"/><circle cx="57.71" cy="352.47" r="1.4"/><circle cx="59.08" cy="351.9" r="1.4"/><circle cx="60.39" cy="351.31" r="1.4"/><circle cx="61.77" cy="350.63" r="1.4"/><circle cx="63.08" cy="349.94" r="1.4"/><circle cx="64.42" cy="349.18" r="1.4"/><circle cx="65.79" cy="348.32" r="1.4"/><circle cx="67.15" cy="347.36" r="1.4"/><circle cx="68.46" cy="346.3" r="1.4"/><circle cx="69.8" cy="345.1" r="1.4"/><circle cx="71.11" cy="344.3" r="1.4"/><circle cx="72.44" cy="343.27" r="1.4"/><circle cx="73.69" cy="338.76" r="1.4"/><circle cx="74.85" cy="332.9" r="1.4"/><circle cx="76.02" cy="326.36" r="1.4"/><circle cx="77.17" cy="319.74" r="1.4"/><circle cx="78.31" cy="313.25" r="1.4"/><circle cx="79.46" cy="307.1" r="1.4"/><circle cx="80.66" cy="301.39" r="1.4"/><circle cx="81.86" cy="296.25" r="1.4"/><circle cx="83.1" cy="291.32" r="1.4"/><circle cx="84.33" cy="286.61" r="1.4"/><circle cx="85.56" cy="281.96" r="1.4"/><circle cx="86.8" cy="277.47" r="1.4"/><circle cx="88.04" cy="273.42" r="1.4"/><circle cx="89.3" cy="269.62" r="1.4"/><circle cx="90.56" cy="266.06" r="1.4"/><circle cx="91.84" cy="262.67" r="1.4"/><circle cx="93.12" cy="259.5" r="1.4"/><circle cx="94.4" cy="256.5" r="1.4"/><circle cx="95.69" cy="253.69" r="1.4"/><circle cx="96.98" cy="251.16" r="1.4"/><circle cx="98.26" cy="248.95" r="1.4"/><circle cx="99.56" cy="247.07" r="1.4"/><circle cx="100.87" cy="245.5" r="1.4"/><circle cx="102.18" cy="244.09" r="1.4"/><circle cx="103.49" cy="242.76" r="1.4"/><circle cx="104.8" cy="241.51" r="1.4"/><circle cx="106.1" cy="240.33" r="1.4"/><circle cx="107.4" cy="239.23" r="1.4"/><circle cx="108.73" cy="238.2" r="1.4"/><circle cx="110.03" cy="237.31" r="1.4"/><circle cx="111.33" cy="236.55" r="1.4"/><circle cx="112.68" cy="235.84" r="1.4"/><circle cx="114" cy="235.17" r="1.4"/><circle cx="115.33" cy="234.47" r="1.4"/><circle cx="116.65" cy="233.7" r="1.4"/><circle cx="117.95" cy="232.82" r="1.4"/><circle cx="119.27" cy="231.82" r="1.4"/><circle cx="120.59" cy="230.74" r="1.4"/><circle cx="121.91" cy="229.61" r="1.4"/><circle cx="123.26" cy="228.43" r="1.4"/><circle cx="124.6" cy="227.25" r="1.4"/><circle cx="125.91" cy="226.11" r="1.4"/><circle cx="127.21" cy="225.05" r="1.4"/><circle cx="128.52" cy="224.11" r="1.4"/></g>
<path d="M62.9,366.5 L64.37,365.86 L66.46,364.97 L68.88,363.92 L71.29,362.79 L73.4,361.7 L75.21,360.64 L76.93,359.56 L78.55,358.43 L80.04,357.25 L81.4,356 L82.58,354.68 L83.59,353.3 L84.49,351.87 L85.34,350.37 L86.2,348.8 L87.02,347.47 L87.77,346.37 L88.5,345.07 L89.29,343.09 L90.2,340 L90.56,338.53 L90.95,336.87 L91.35,335.02 L91.77,333.03 L92.2,330.92 L92.63,328.71 L93.08,326.43 L93.52,324.11 L93.97,321.78 L94.41,319.45 L94.85,317.17 L95.28,314.95 L95.7,312.81 L96.1,310.8 L96.5,308.83 L96.89,306.82 L97.29,304.79 L97.69,302.75 L98.08,300.73 L98.47,298.72 L98.85,296.76 L99.23,294.86 L99.6,293.03 L99.96,291.28 L100.31,289.64 L100.65,288.12 L100.98,286.73 L101.3,285.5 L101.61,284.44 L101.91,283.54 L102.2,282.78 L102.49,282.15 L102.77,281.63 L103.04,281.19 L103.3,280.82 L103.55,280.5 L103.79,280.21 L104.02,279.93 L104.23,279.64 L104.44,279.31 L104.62,278.94 L104.8,278.5 L104.96,278.02 L105.09,277.56 L105.2,277.1 L105.29,276.65 L105.37,276.2 L105.44,275.75 L105.51,275.31 L105.56,274.86 L105.62,274.4 L105.68,273.94 L105.74,273.48 L105.82,273 L105.9,272.51 L106,272 L106.11,271.48 L106.22,270.94 L106.33,270.39 L106.45,269.82 L106.57,269.25 L106.69,268.68 L106.81,268.09 L106.94,267.51 L107.07,266.93 L107.21,266.35 L107.35,265.77 L107.5,265.2 L107.65,264.65 L107.8,264.1 L107.96,263.56 L108.11,263.04 L108.27,262.51 L108.43,261.99 L108.6,261.48 L108.76,260.97 L108.94,260.46 L109.12,259.96 L109.31,259.45 L109.5,258.94 L109.71,258.44 L109.93,257.93 L110.16,257.42 L110.4,256.9 L110.66,256.38 L110.92,255.86 L111.2,255.34 L111.49,254.82 L111.78,254.3 L112.09,253.77 L112.4,253.25 L112.72,252.73 L113.05,252.2 L113.39,251.68 L113.73,251.16 L114.08,250.64 L114.44,250.12 L114.8,249.6 L115.17,249.08 L115.54,248.55 L115.92,248.03 L116.31,247.49 L116.71,246.96 L117.11,246.43 L117.52,245.91 L117.94,245.38 L118.37,244.86 L118.8,244.35 L119.24,243.85 L119.69,243.35 L120.14,242.87 L120.6,242.4 L121.07,241.94 L121.55,241.49 L122.05,241.04 L122.55,240.61 L123.06,240.18 L123.58,239.75 L124.11,239.34 L124.63,238.93 L125.16,238.53 L125.69,238.13 L126.23,237.74 L126.75,237.35 L127.28,236.97 L127.8,236.6 L128.33,236.23 L128.87,235.86 L129.43,235.5 L129.99,235.14 L130.56,234.78 L131.13,234.43 L131.69,234.09 L132.24,233.76 L132.78,233.44 L133.3,233.13 L133.79,232.83 L134.26,232.54 L134.7,232.26 L135.1,232 L135.47,231.75 L135.82,231.51 L136.15,231.28 L136.45,231.06 L136.74,230.85 L137.01,230.65 L137.26,230.46 L137.49,230.29 L137.7,230.12 L137.89,229.97 L138.07,229.83 L138.23,229.71 L138.37,229.6 L138.5,229.5" stroke="#c184e2" stroke-width="0.75" fill="none" stroke-dasharray="1.3 1.1"/>
<g fill="#ebd5f5" stroke="#c184e2" stroke-width="0.95"><circle cx="62.9" cy="366.5" r="1.4"/><circle cx="64.3" cy="365.89" r="1.4"/><circle cx="65.71" cy="365.29" r="1.4"/><circle cx="67.12" cy="364.69" r="1.4"/><circle cx="68.62" cy="364.03" r="1.4"/><circle cx="70.12" cy="363.35" r="1.4"/><circle cx="71.57" cy="362.66" r="1.4"/><circle cx="72.89" cy="361.98" r="1.4"/><circle cx="74.2" cy="361.24" r="1.4"/><circle cx="75.61" cy="360.4" r="1.4"/><circle cx="76.96" cy="359.54" r="1.4"/><circle cx="78.39" cy="358.55" r="1.4"/><circle cx="79.72" cy="357.53" r="1.4"/><circle cx="81.06" cy="356.34" r="1.4"/><circle cx="82.44" cy="354.85" r="1.4"/><circle cx="83.77" cy="353.03" r="1.4"/><circle cx="85.08" cy="350.85" r="1.4"/><circle cx="86.43" cy="348.4" r="1.4"/><circle cx="87.72" cy="346.45" r="1.4"/><circle cx="89.03" cy="343.81" r="1.4"/><circle cx="90.27" cy="339.74" r="1.4"/><circle cx="91.48" cy="334.42" r="1.4"/><circle cx="92.66" cy="328.59" r="1.4"/><circle cx="93.83" cy="322.47" r="1.4"/><circle cx="95" cy="316.38" r="1.4"/><circle cx="96.18" cy="310.43" r="1.4"/><circle cx="97.34" cy="304.54" r="1.4"/><circle cx="98.52" cy="298.43" r="1.4"/><circle cx="99.7" cy="292.54" r="1.4"/><circle cx="100.91" cy="287.04" r="1.4"/><circle cx="102.16" cy="282.89" r="1.4"/><circle cx="103.44" cy="280.64" r="1.4"/><circle cx="104.74" cy="278.68" r="1.4"/><circle cx="105.88" cy="272.62" r="1.4"/><circle cx="107.06" cy="266.99" r="1.4"/><circle cx="108.29" cy="262.45" r="1.4"/><circle cx="109.55" cy="258.83" r="1.4"/><circle cx="110.84" cy="256.02" r="1.4"/><circle cx="112.13" cy="253.7" r="1.4"/><circle cx="113.43" cy="251.62" r="1.4"/><circle cx="114.73" cy="249.7" r="1.4"/><circle cx="116.05" cy="247.86" r="1.4"/><circle cx="117.37" cy="246.11" r="1.4"/><circle cx="118.69" cy="244.48" r="1.4"/><circle cx="119.99" cy="243.03" r="1.4"/><circle cx="121.32" cy="241.71" r="1.4"/><circle cx="122.63" cy="240.54" r="1.4"/><circle cx="123.96" cy="239.45" r="1.4"/><circle cx="125.26" cy="238.46" r="1.4"/><circle cx="126.56" cy="237.49" r="1.4"/><circle cx="127.9" cy="236.53" r="1.4"/><circle cx="129.23" cy="235.62" r="1.4"/><circle cx="130.57" cy="234.78" r="1.4"/><circle cx="131.9" cy="233.97" r="1.4"/><circle cx="133.21" cy="233.18" r="1.4"/><circle cx="134.52" cy="232.37" r="1.4"/><circle cx="135.85" cy="231.49" r="1.4"/><circle cx="137.16" cy="230.53" r="1.4"/><circle cx="138.46" cy="229.53" r="1.4"/></g>
<path d="M140.3,230.5 L140.96,230.06 L141.89,229.44 L142.96,228.72 L144,228 L145.03,227.29 L146.11,226.53 L147.16,225.76 L148.1,225 L148.94,224.18 L149.71,223.31 L150.35,222.54 L150.8,222" stroke="#c184e2" stroke-width="0.75" fill="none" stroke-dasharray="1.3 1.1"/>
<g fill="#ebd5f5" stroke="#c184e2" stroke-width="0.95"><circle cx="140.3" cy="230.5" r="1.4"/><circle cx="141.71" cy="229.56" r="1.4"/><circle cx="143.06" cy="228.65" r="1.4"/><circle cx="144.48" cy="227.66" r="1.4"/><circle cx="145.85" cy="226.71" r="1.4"/><circle cx="147.2" cy="225.73" r="1.4"/><circle cx="148.51" cy="224.62" r="1.4"/><circle cx="149.87" cy="223.11" r="1.4"/></g>
<path d="M86.2,372.9 L87.56,372.26 L89.5,371.36 L91.72,370.31 L93.92,369.19 L95.8,368.1 L97.33,367.07 L98.7,366.03 L99.97,364.95 L101.16,363.79 L102.3,362.5 L103.39,361.06 L104.42,359.48 L105.38,357.82 L106.27,356.14 L107.1,354.5 L107.87,352.92 L108.59,351.37 L109.24,349.8 L109.81,348.16 L110.3,346.4 L110.6,344.71 L110.72,343.11 L110.81,341.35 L111.02,339.13 L111.5,336.2 L111.81,334.72 L112.18,333.1 L112.6,331.37 L113.06,329.52 L113.55,327.58 L114.06,325.57 L114.58,323.49 L115.1,321.36 L115.61,319.19 L116.1,317 L116.57,314.79 L117,312.6 L117.35,310.67 L117.7,308.63 L118.04,306.51 L118.38,304.33 L118.71,302.11 L119.04,299.87 L119.36,297.62 L119.67,295.41 L119.97,293.23 L120.26,291.11 L120.54,289.08 L120.81,287.16 L121.06,285.35 L121.3,283.7 L121.52,282.18 L121.72,280.75 L121.9,279.42 L122.06,278.17 L122.21,276.99 L122.35,275.89 L122.49,274.84 L122.62,273.84 L122.75,272.89 L122.88,271.97 L123.02,271.08 L123.17,270.21 L123.33,269.35 L123.5,268.5 L123.68,267.68 L123.87,266.92 L124.06,266.21 L124.26,265.54 L124.46,264.91 L124.66,264.32 L124.86,263.74 L125.07,263.19 L125.28,262.64 L125.5,262.1 L125.72,261.55 L125.94,260.99 L126.17,260.41 L126.4,259.8 L126.64,259.17 L126.88,258.53 L127.14,257.87 L127.4,257.21 L127.66,256.55 L127.93,255.88 L128.2,255.23 L128.47,254.58 L128.74,253.94 L129,253.32 L129.26,252.73 L129.52,252.15 L129.76,251.61 L130,251.1 L130.23,250.62 L130.44,250.18 L130.66,249.77 L130.86,249.38 L131.06,249.01 L131.26,248.66 L131.45,248.32 L131.64,247.99 L131.84,247.67 L132.04,247.34 L132.24,247.02 L132.46,246.69 L132.67,246.35 L132.9,246 L133.14,245.64 L133.38,245.27 L133.63,244.89 L133.88,244.52 L134.14,244.15 L134.4,243.77 L134.66,243.4 L134.93,243.03 L135.19,242.67 L135.46,242.32 L135.72,241.97 L135.98,241.63 L136.24,241.31 L136.5,241 L136.76,240.7 L137.01,240.43 L137.27,240.16 L137.53,239.91 L137.79,239.66 L138.05,239.42 L138.31,239.19 L138.57,238.96 L138.82,238.73 L139.07,238.49 L139.31,238.26 L139.55,238.01 L139.78,237.76 L140,237.5 L140.21,237.22 L140.39,236.93 L140.57,236.63 L140.73,236.33 L140.88,236.01 L141.03,235.7 L141.18,235.39 L141.34,235.08 L141.5,234.78 L141.68,234.49 L141.87,234.21 L142.09,233.96 L142.33,233.72 L142.6,233.5 L142.9,233.31 L143.23,233.13 L143.58,232.98 L143.95,232.83 L144.34,232.71 L144.74,232.59 L145.15,232.48 L145.57,232.38 L145.99,232.28 L146.4,232.19 L146.82,232.1 L147.23,232 L147.62,231.9 L148,231.8 L148.37,231.7 L148.74,231.6 L149.1,231.5 L149.46,231.41 L149.82,231.32 L150.17,231.24 L150.53,231.15 L150.88,231.06 L151.23,230.98 L151.58,230.89 L151.94,230.8 L152.29,230.7 L152.64,230.6 L153,230.5 L153.36,230.39 L153.71,230.29 L154.06,230.18 L154.41,230.07 L154.76,229.96 L155.11,229.85 L155.46,229.73 L155.81,229.61 L156.16,229.49 L156.52,229.36 L156.88,229.23 L157.25,229.09 L157.62,228.95 L158,228.8 L158.39,228.64 L158.79,228.47 L159.2,228.29 L159.62,228.1 L160.04,227.9 L160.47,227.7 L160.89,227.5 L161.32,227.3 L161.74,227.1 L162.15,226.9 L162.56,226.71 L162.95,226.53 L163.33,226.36 L163.7,226.2 L164.05,226.05 L164.38,225.92 L164.69,225.79 L165,225.68 L165.29,225.57 L165.58,225.46 L165.86,225.36 L166.15,225.25 L166.43,225.14 L166.72,225.03 L167.02,224.91 L167.33,224.79 L167.66,224.65 L168,224.5 L168.37,224.33 L168.77,224.14 L169.2,223.94 L169.64,223.72 L170.1,223.5 L170.56,223.27 L171.02,223.04 L171.46,222.82 L171.89,222.61 L172.29,222.4 L172.66,222.22 L172.99,222.05 L173.27,221.91 L173.5,221.8" stroke="#d75b78" stroke-width="0.75" fill="none" stroke-dasharray="1.3 1.1"/>
<g fill="#f3c6d0" stroke="#d75b78" stroke-width="0.95"><circle cx="86.2" cy="372.9" r="1.4"/><circle cx="87.62" cy="372.23" r="1.4"/><circle cx="89.06" cy="371.57" r="1.4"/><circle cx="90.49" cy="370.9" r="1.4"/><circle cx="91.98" cy="370.18" r="1.4"/><circle cx="93.44" cy="369.44" r="1.4"/><circle cx="94.8" cy="368.71" r="1.4"/><circle cx="96.1" cy="367.9" r="1.4"/><circle cx="97.52" cy="366.93" r="1.4"/><circle cx="98.93" cy="365.85" r="1.4"/><circle cx="100.22" cy="364.72" r="1.4"/><circle cx="101.55" cy="363.37" r="1.4"/><circle cx="102.93" cy="361.7" r="1.4"/><circle cx="104.31" cy="359.66" r="1.4"/><circle cx="105.65" cy="357.32" r="1.4"/><circle cx="106.95" cy="354.81" r="1.4"/><circle cx="108.25" cy="352.13" r="1.4"/><circle cx="109.53" cy="349" r="1.4"/><circle cx="110.69" cy="343.6" r="1.4"/><circle cx="111.68" cy="335.34" r="1.4"/><circle cx="112.9" cy="330.14" r="1.4"/><circle cx="114.13" cy="325.26" r="1.4"/><circle cx="115.37" cy="320.21" r="1.4"/><circle cx="116.57" cy="314.78" r="1.4"/><circle cx="117.73" cy="308.4" r="1.4"/><circle cx="118.83" cy="301.28" r="1.4"/><circle cx="119.92" cy="293.61" r="1.4"/><circle cx="120.97" cy="285.96" r="1.4"/><circle cx="122.04" cy="278.37" r="1.4"/><circle cx="123.09" cy="270.64" r="1.4"/><circle cx="124.3" cy="265.4" r="1.4"/><circle cx="125.56" cy="261.95" r="1.4"/><circle cx="126.84" cy="258.64" r="1.4"/><circle cx="128.12" cy="255.41" r="1.4"/><circle cx="129.39" cy="252.43" r="1.4"/><circle cx="130.67" cy="249.74" r="1.4"/><circle cx="131.96" cy="247.48" r="1.4"/><circle cx="133.26" cy="245.44" r="1.4"/><circle cx="134.56" cy="243.54" r="1.4"/><circle cx="135.86" cy="241.8" r="1.4"/><circle cx="137.17" cy="240.27" r="1.4"/><circle cx="138.48" cy="239.03" r="1.4"/><circle cx="139.79" cy="237.75" r="1.4"/><circle cx="141.08" cy="235.6" r="1.4"/><circle cx="142.37" cy="233.69" r="1.4"/><circle cx="143.67" cy="232.94" r="1.4"/><circle cx="144.99" cy="232.52" r="1.4"/><circle cx="146.31" cy="232.21" r="1.4"/><circle cx="147.64" cy="231.9" r="1.4"/><circle cx="148.95" cy="231.54" r="1.4"/><circle cx="150.25" cy="231.22" r="1.4"/><circle cx="151.57" cy="230.89" r="1.4"/><circle cx="152.9" cy="230.53" r="1.4"/><circle cx="154.22" cy="230.13" r="1.4"/><circle cx="155.52" cy="229.71" r="1.4"/><circle cx="156.86" cy="229.24" r="1.4"/><circle cx="158.18" cy="228.72" r="1.4"/><circle cx="159.51" cy="228.15" r="1.4"/><circle cx="160.81" cy="227.54" r="1.4"/><circle cx="162.14" cy="226.91" r="1.4"/><circle cx="163.46" cy="226.31" r="1.4"/><circle cx="164.77" cy="225.76" r="1.4"/><circle cx="166.08" cy="225.28" r="1.4"/><circle cx="167.39" cy="224.76" r="1.4"/><circle cx="168.7" cy="224.18" r="1.4"/><circle cx="170.01" cy="223.55" r="1.4"/><circle cx="171.32" cy="222.89" r="1.4"/><circle cx="172.64" cy="222.23" r="1.4"/></g>
<path d="M111.1,381 L112.33,380.1 L114.1,378.82 L116.12,377.35 L118.15,375.85 L119.9,374.5 L121.36,373.41 L122.71,372.46 L123.98,371.5 L125.19,370.36 L126.4,368.9 L127.43,367.28 L128.48,365.33 L129.51,363.22 L130.46,361.13 L131.31,359.23 L132,357.7 L132.46,356.75 L132.72,356.3 L132.87,356.04 L133,355.67 L133.21,354.89 L133.6,353.4 L133.97,352 L134.4,350.39 L134.88,348.59 L135.4,346.61 L135.93,344.46 L136.49,342.15 L137.04,339.7 L137.58,337.11 L138.1,334.4 L138.41,332.67 L138.72,330.8 L139.03,328.82 L139.35,326.75 L139.66,324.61 L139.98,322.41 L140.3,320.18 L140.61,317.94 L140.93,315.71 L141.24,313.5 L141.54,311.35 L141.84,309.26 L142.14,307.26 L142.42,305.36 L142.7,303.6 L142.97,301.94 L143.24,300.36 L143.5,298.84 L143.76,297.37 L144.01,295.96 L144.26,294.6 L144.5,293.28 L144.74,292 L144.97,290.75 L145.2,289.53 L145.43,288.32 L145.65,287.13 L145.87,285.95 L146.09,284.78 L146.3,283.6 L146.5,282.43 L146.7,281.3 L146.88,280.18 L147.06,279.09 L147.23,278.03 L147.4,276.98 L147.57,275.95 L147.73,274.94 L147.9,273.94 L148.07,272.96 L148.24,271.99 L148.42,271.03 L148.6,270.08 L148.8,269.14 L149,268.2 L149.21,267.26 L149.43,266.33 L149.66,265.4 L149.9,264.48 L150.13,263.57 L150.38,262.67 L150.62,261.78 L150.87,260.91 L151.12,260.06 L151.37,259.23 L151.62,258.43 L151.87,257.65 L152.11,256.9 L152.36,256.18 L152.6,255.5 L152.84,254.85 L153.07,254.25 L153.29,253.68 L153.51,253.14 L153.73,252.63 L153.95,252.14 L154.17,251.67 L154.39,251.22 L154.62,250.78 L154.86,250.35 L155.1,249.93 L155.36,249.5 L155.62,249.08 L155.9,248.64 L156.2,248.2 L156.51,247.74 L156.85,247.27 L157.19,246.78 L157.56,246.29 L157.93,245.8 L158.31,245.32 L158.7,244.84 L159.09,244.38 L159.48,243.94 L159.87,243.53 L160.26,243.14 L160.63,242.79 L161,242.48 L161.36,242.22 L161.7,242 L162.04,241.84 L162.38,241.74 L162.74,241.68 L163.09,241.67 L163.44,241.69 L163.79,241.74 L164.13,241.82 L164.46,241.91 L164.77,242.01 L165.07,242.12 L165.35,242.23 L165.6,242.32 L165.83,242.41 L166.03,242.47 L166.2,242.5" stroke="#f3a24d" stroke-width="0.75" fill="none" stroke-dasharray="1.3 1.1"/>
<g fill="#fbdcb8" stroke="#f3a24d" stroke-width="0.95"><circle cx="111.1" cy="381" r="1.4"/><circle cx="112.51" cy="379.98" r="1.4"/><circle cx="113.81" cy="379.03" r="1.4"/><circle cx="115.28" cy="377.96" r="1.4"/><circle cx="116.62" cy="376.98" r="1.4"/><circle cx="117.93" cy="376.01" r="1.4"/><circle cx="119.3" cy="374.97" r="1.4"/><circle cx="120.73" cy="373.87" r="1.4"/><circle cx="122.15" cy="372.86" r="1.4"/><circle cx="123.47" cy="371.9" r="1.4"/><circle cx="124.84" cy="370.73" r="1.4"/><circle cx="126.18" cy="369.2" r="1.4"/><circle cx="127.5" cy="367.16" r="1.4"/><circle cx="128.82" cy="364.65" r="1.4"/><circle cx="130.16" cy="361.79" r="1.4"/><circle cx="131.48" cy="358.85" r="1.4"/><circle cx="132.76" cy="356.23" r="1.4"/><circle cx="134.02" cy="351.83" r="1.4"/><circle cx="135.24" cy="347.2" r="1.4"/><circle cx="136.45" cy="342.3" r="1.4"/><circle cx="137.67" cy="336.67" r="1.4"/><circle cx="138.82" cy="330.17" r="1.4"/><circle cx="139.92" cy="322.84" r="1.4"/><circle cx="140.99" cy="315.28" r="1.4"/><circle cx="142.07" cy="307.7" r="1.4"/><circle cx="143.19" cy="300.61" r="1.4"/><circle cx="144.33" cy="294.21" r="1.4"/><circle cx="145.48" cy="288.05" r="1.4"/><circle cx="146.63" cy="281.7" r="1.4"/><circle cx="147.75" cy="274.81" r="1.4"/><circle cx="148.9" cy="268.65" r="1.4"/><circle cx="150.12" cy="263.63" r="1.4"/><circle cx="151.36" cy="259.26" r="1.4"/><circle cx="152.62" cy="255.44" r="1.4"/><circle cx="153.89" cy="252.28" r="1.4"/><circle cx="155.18" cy="249.79" r="1.4"/><circle cx="156.47" cy="247.8" r="1.4"/><circle cx="157.76" cy="246.02" r="1.4"/><circle cx="159.06" cy="244.41" r="1.4"/><circle cx="160.38" cy="243.03" r="1.4"/><circle cx="161.7" cy="242" r="1.4"/><circle cx="163.01" cy="241.67" r="1.4"/><circle cx="164.31" cy="241.87" r="1.4"/><circle cx="165.63" cy="242.33" r="1.4"/></g>
<path d="M168,235.6 L169.23,235.32 L170.97,234.93 L172.99,234.47 L175,234 L177.02,233.54 L179.16,233.06 L181.32,232.53 L183.4,231.9 L185.37,231.17 L187.29,230.36 L189.17,229.47 L191,228.5 L192.94,227.31 L194.93,225.94 L196.68,224.68 L197.9,223.8" stroke="#f3a24d" stroke-width="0.75" fill="none" stroke-dasharray="1.3 1.1"/>
<g fill="#fbdcb8" stroke="#f3a24d" stroke-width="0.95"><circle cx="168" cy="235.6" r="1.4"/><circle cx="169.45" cy="235.27" r="1.4"/><circle cx="170.87" cy="234.96" r="1.4"/><circle cx="172.23" cy="234.65" r="1.4"/><circle cx="173.63" cy="234.32" r="1.4"/><circle cx="175" cy="234" r="1.4"/><circle cx="176.49" cy="233.66" r="1.4"/><circle cx="177.86" cy="233.36" r="1.4"/><circle cx="179.26" cy="233.04" r="1.4"/><circle cx="180.67" cy="232.7" r="1.4"/><circle cx="182.06" cy="232.32" r="1.4"/><circle cx="183.4" cy="231.9" r="1.4"/><circle cx="184.87" cy="231.37" r="1.4"/><circle cx="186.32" cy="230.79" r="1.4"/><circle cx="187.73" cy="230.16" r="1.4"/><circle cx="189.12" cy="229.49" r="1.4"/><circle cx="190.49" cy="228.78" r="1.4"/><circle cx="191.88" cy="227.98" r="1.4"/><circle cx="193.36" cy="227.02" r="1.4"/><circle cx="194.66" cy="226.13" r="1.4"/><circle cx="196.03" cy="225.14" r="1.4"/><circle cx="197.42" cy="224.14" r="1.4"/></g>
<path d="M136.9,386.6 L138.21,385.94 L140.1,385.01 L142.19,383.87 L144.1,382.6 L145.81,381.19 L147.5,379.6 L149.09,377.89 L150.5,376.1 L151.69,374.26 L152.7,372.34 L153.61,370.3 L154.5,368.1 L155.21,366.1 L155.89,363.91 L156.53,361.67 L157.14,359.54 L157.7,357.7 L158.18,356.38 L158.58,355.48 L158.97,354.63 L159.39,353.46 L159.9,351.6 L160.28,350.02 L160.68,348.23 L161.11,346.24 L161.56,344.09 L162.02,341.81 L162.5,339.41 L163,336.93 L163.5,334.4 L163.84,332.68 L164.2,330.91 L164.56,329.1 L164.93,327.24 L165.31,325.33 L165.69,323.39 L166.07,321.4 L166.46,319.36 L166.85,317.29 L167.23,315.17 L167.62,313 L168,310.8 L168.31,308.95 L168.63,306.98 L168.96,304.91 L169.29,302.76 L169.63,300.56 L169.97,298.34 L170.3,296.11 L170.63,293.9 L170.96,291.73 L171.27,289.64 L171.57,287.63 L171.86,285.74 L172.13,283.99 L172.37,282.4 L172.6,281 L172.79,279.8 L172.95,278.8 L173.07,277.96 L173.16,277.25 L173.24,276.67 L173.31,276.18 L173.36,275.75 L173.42,275.37 L173.49,275 L173.57,274.63 L173.67,274.23 L173.8,273.76 L173.96,273.22 L174.16,272.58 L174.4,271.8 L174.69,270.9 L175.01,269.9 L175.37,268.82 L175.76,267.68 L176.17,266.49 L176.6,265.27 L177.04,264.04 L177.5,262.8 L177.96,261.58 L178.43,260.4 L178.9,259.26 L179.37,258.18 L179.83,257.19 L180.27,256.29 L180.7,255.5 L181.12,254.8 L181.54,254.17 L181.96,253.59 L182.38,253.06 L182.8,252.59 L183.22,252.16 L183.63,251.78 L184.05,251.44 L184.47,251.14 L184.89,250.88 L185.31,250.65 L185.73,250.45 L186.15,250.27 L186.58,250.13 L187,250 L187.44,249.92 L187.9,249.91 L188.38,249.95 L188.87,250.05 L189.36,250.19 L189.86,250.36 L190.35,250.55 L190.83,250.76 L191.3,250.98 L191.74,251.2 L192.15,251.41 L192.53,251.61 L192.87,251.78 L193.16,251.91 L193.4,252" stroke="#5fb4ab" stroke-width="0.75" fill="none" stroke-dasharray="1.3 1.1"/>
<g fill="#c9e7e3" stroke="#5fb4ab" stroke-width="0.95"><circle cx="136.9" cy="386.6" r="1.4"/><circle cx="138.34" cy="385.88" r="1.4"/><circle cx="139.8" cy="385.16" r="1.4"/><circle cx="141.22" cy="384.42" r="1.4"/><circle cx="142.64" cy="383.6" r="1.4"/><circle cx="144.1" cy="382.6" r="1.4"/><circle cx="145.47" cy="381.48" r="1.4"/><circle cx="146.83" cy="380.25" r="1.4"/><circle cx="148.15" cy="378.93" r="1.4"/><circle cx="149.52" cy="377.38" r="1.4"/><circle cx="150.84" cy="375.62" r="1.4"/><circle cx="152.13" cy="373.46" r="1.4"/><circle cx="153.47" cy="370.63" r="1.4"/><circle cx="154.76" cy="367.39" r="1.4"/><circle cx="156.03" cy="363.41" r="1.4"/><circle cx="157.29" cy="359.03" r="1.4"/><circle cx="158.56" cy="355.53" r="1.4"/><circle cx="159.85" cy="351.81" r="1.4"/><circle cx="161.04" cy="346.55" r="1.4"/><circle cx="162.23" cy="340.8" r="1.4"/><circle cx="163.41" cy="334.87" r="1.4"/><circle cx="164.6" cy="328.91" r="1.4"/><circle cx="165.76" cy="322.99" r="1.4"/><circle cx="166.92" cy="316.87" r="1.4"/><circle cx="168.06" cy="310.44" r="1.4"/><circle cx="169.19" cy="303.41" r="1.4"/><circle cx="170.3" cy="296.11" r="1.4"/><circle cx="171.39" cy="288.82" r="1.4"/><circle cx="172.49" cy="281.68" r="1.4"/><circle cx="173.58" cy="274.59" r="1.4"/><circle cx="174.82" cy="270.51" r="1.4"/><circle cx="176.08" cy="266.73" r="1.4"/><circle cx="177.36" cy="263.17" r="1.4"/><circle cx="178.62" cy="259.93" r="1.4"/><circle cx="179.92" cy="257" r="1.4"/><circle cx="181.2" cy="254.67" r="1.4"/><circle cx="182.5" cy="252.92" r="1.4"/><circle cx="183.8" cy="251.64" r="1.4"/><circle cx="185.1" cy="250.76" r="1.4"/><circle cx="186.41" cy="250.18" r="1.4"/><circle cx="187.71" cy="249.9" r="1.4"/><circle cx="189.01" cy="250.08" r="1.4"/><circle cx="190.35" cy="250.55" r="1.4"/><circle cx="191.65" cy="251.16" r="1.4"/><circle cx="192.96" cy="251.82" r="1.4"/></g>
<path d="M194.3,245.5 L195.48,244.78 L197.16,243.76 L199.09,242.6 L201,241.5 L202.89,240.49 L204.87,239.48 L206.87,238.45 L208.8,237.4 L210.64,236.33 L212.43,235.24 L214.21,234.13 L216,233 L217.99,231.74 L220.1,230.38 L221.99,229.15 L223.3,228.3" stroke="#5fb4ab" stroke-width="0.75" fill="none" stroke-dasharray="1.3 1.1"/>
<g fill="#c9e7e3" stroke="#5fb4ab" stroke-width="0.95"><circle cx="194.3" cy="245.5" r="1.4"/><circle cx="195.67" cy="244.67" r="1.4"/><circle cx="197.07" cy="243.81" r="1.4"/><circle cx="198.44" cy="242.99" r="1.4"/><circle cx="199.84" cy="242.16" r="1.4"/><circle cx="201.17" cy="241.41" r="1.4"/><circle cx="202.53" cy="240.67" r="1.4"/><circle cx="203.96" cy="239.94" r="1.4"/><circle cx="205.42" cy="239.2" r="1.4"/><circle cx="206.87" cy="238.45" r="1.4"/><circle cx="208.28" cy="237.69" r="1.4"/><circle cx="209.64" cy="236.92" r="1.4"/><circle cx="210.97" cy="236.13" r="1.4"/><circle cx="212.27" cy="235.34" r="1.4"/><circle cx="213.72" cy="234.43" r="1.4"/><circle cx="215.18" cy="233.52" r="1.4"/><circle cx="216.51" cy="232.68" r="1.4"/><circle cx="217.99" cy="231.74" r="1.4"/><circle cx="219.34" cy="230.87" r="1.4"/><circle cx="220.65" cy="230.02" r="1.4"/><circle cx="221.99" cy="229.15" r="1.4"/><circle cx="223.3" cy="228.3" r="1.4"/></g>
<line x1="284.99" y1="226.13" x2="287.89" y2="357.23" stroke="#e0e0e0" stroke-width="0.6" />
<line x1="298.6" y1="224.96" x2="300.97" y2="353.64" stroke="#e0e0e0" stroke-width="0.6" />
<line x1="311.38" y1="223.85" x2="313.26" y2="350.27" stroke="#e0e0e0" stroke-width="0.6" />
<line x1="324.98" y1="222.67" x2="326.35" y2="346.67" stroke="#e0e0e0" stroke-width="0.6" />
<line x1="337.68" y1="221.57" x2="338.55" y2="343.32" stroke="#e0e0e0" stroke-width="0.6" />
<line x1="349.36" y1="220.56" x2="349.79" y2="340.24" stroke="#e0e0e0" stroke-width="0.6" />
<line x1="385.74" y1="221.24" x2="384.73" y2="342.37" stroke="#e0e0e0" stroke-width="0.6" />
<line x1="408.91" y1="222.75" x2="406.98" y2="347.03" stroke="#e0e0e0" stroke-width="0.6" />
<line x1="433.63" y1="224.36" x2="430.72" y2="352" stroke="#e0e0e0" stroke-width="0.6" />
<line x1="458.14" y1="225.95" x2="454.26" y2="356.92" stroke="#e0e0e0" stroke-width="0.6" />
<path d="M271.53,316.77 L360.5,298.07 L460.77,314.1" stroke="#e0e0e0" stroke-width="0.6" fill="none" />
<path d="M270.37,272.13 L360.5,258.83 L462.13,270.2" stroke="#e0e0e0" stroke-width="0.6" fill="none" />
<line x1="287.89" y1="357.23" x2="389.1" y2="383.64" stroke="#e0e0e0" stroke-width="0.6" />
<line x1="300.97" y1="353.64" x2="401.77" y2="379.02" stroke="#e0e0e0" stroke-width="0.6" />
<line x1="313.26" y1="350.27" x2="413.67" y2="374.68" stroke="#e0e0e0" stroke-width="0.6" />
<line x1="326.35" y1="346.67" x2="426.33" y2="370.06" stroke="#e0e0e0" stroke-width="0.6" />
<line x1="338.55" y1="343.32" x2="438.15" y2="365.75" stroke="#e0e0e0" stroke-width="0.6" />
<line x1="349.79" y1="340.24" x2="449.03" y2="361.78" stroke="#e0e0e0" stroke-width="0.6" />
<line x1="297.62" y1="368.16" x2="384.73" y2="342.37" stroke="#e0e0e0" stroke-width="0.6" />
<line x1="320.5" y1="374.37" x2="406.98" y2="347.03" stroke="#e0e0e0" stroke-width="0.6" />
<line x1="344.91" y1="381" x2="430.72" y2="352" stroke="#e0e0e0" stroke-width="0.6" />
<line x1="369.11" y1="387.56" x2="454.26" y2="356.92" stroke="#e0e0e0" stroke-width="0.6" />
<path d="M269.2,227.5 L360.5,219.6 L463.5,226.3 L459.4,358" stroke="#8c8c8c" stroke-width="0.8" fill="none" />
<line x1="360.5" y1="219.6" x2="360.5" y2="337.3" stroke="#a4a4a4" stroke-width="1.0" />
<path d="M272.7,361.4 L360.5,337.3 L459.4,358" stroke="#333" stroke-width="0.8" fill="none" />
<line x1="269.2" y1="227.5" x2="272.7" y2="361.4" stroke="#222" stroke-width="1.0" />
<path d="M272.7,361.4 L374.4,389 L459.4,358" stroke="#222" stroke-width="1.0" fill="none" />
<line x1="269.9" y1="361.4" x2="272.7" y2="361.4" stroke="#222" stroke-width="0.9" />
<text x="267.6" y="365" font-size="8.4" font-weight="normal" text-anchor="end" fill="#222" >0</text>
<line x1="269.32" y1="339.08" x2="272.12" y2="339.08" stroke="#222" stroke-width="0.9" />
<line x1="268.73" y1="316.77" x2="271.53" y2="316.77" stroke="#222" stroke-width="0.9" />
<text x="266.43" y="320.37" font-size="8.4" font-weight="normal" text-anchor="end" fill="#222" >30</text>
<line x1="268.15" y1="294.45" x2="270.95" y2="294.45" stroke="#222" stroke-width="0.9" />
<line x1="267.57" y1="272.13" x2="270.37" y2="272.13" stroke="#222" stroke-width="0.9" />
<text x="265.27" y="275.73" font-size="8.4" font-weight="normal" text-anchor="end" fill="#222" >60</text>
<line x1="266.98" y1="249.82" x2="269.78" y2="249.82" stroke="#222" stroke-width="0.9" />
<line x1="266.4" y1="227.5" x2="269.2" y2="227.5" stroke="#222" stroke-width="0.9" />
<text x="264.1" y="231.1" font-size="8.4" font-weight="normal" text-anchor="end" fill="#222" >90</text>
<line x1="274.02" y1="361.76" x2="273.22" y2="364.76" stroke="#222" stroke-width="0.9" />
<line x1="298.63" y1="368.44" x2="297.83" y2="371.44" stroke="#222" stroke-width="0.9" />
<line x1="320.3" y1="374.32" x2="319.5" y2="377.32" stroke="#222" stroke-width="0.9" />
<line x1="344.81" y1="380.97" x2="344.01" y2="383.97" stroke="#222" stroke-width="0.9" />
<line x1="369.11" y1="387.56" x2="368.31" y2="390.56" stroke="#222" stroke-width="0.9" />
<line x1="376.1" y1="388.38" x2="378.3" y2="390.58" stroke="#222" stroke-width="0.9" />
<line x1="389.1" y1="383.64" x2="391.3" y2="385.84" stroke="#222" stroke-width="0.9" />
<line x1="401.77" y1="379.02" x2="403.97" y2="381.22" stroke="#222" stroke-width="0.9" />
<line x1="413.67" y1="374.68" x2="415.87" y2="376.88" stroke="#222" stroke-width="0.9" />
<line x1="426.33" y1="370.06" x2="428.53" y2="372.26" stroke="#222" stroke-width="0.9" />
<line x1="438.15" y1="365.75" x2="440.35" y2="367.95" stroke="#222" stroke-width="0.9" />
<line x1="449.03" y1="361.78" x2="451.23" y2="363.98" stroke="#222" stroke-width="0.9" />
<line x1="458.55" y1="358.31" x2="460.75" y2="360.51" stroke="#222" stroke-width="0.9" />
<path d="M277.8,329.8 L278.59,328.33 L279.71,326.21 L281.01,323.86 L282.3,321.7 L283.61,319.73 L284.99,317.77 L286.39,315.95 L287.7,314.4 L288.89,313.03 L290,311.81 L291.11,310.98 L292.3,310.8 L293.57,311.39 L294.89,312.59 L296.27,314.25 L297.7,316.2 L298.69,317.7 L299.7,319.43 L300.73,321.31 L301.79,323.26 L302.88,325.22 L304,327.1 L305.14,328.99 L306.3,330.97 L307.48,332.95 L308.7,334.84 L309.97,336.55 L311.3,338 L312.71,339.18 L314.2,340.17 L315.74,340.99 L317.3,341.64 L318.83,342.14 L320.3,342.5 L321.73,342.71 L323.16,342.77 L324.57,342.67 L325.94,342.43 L327.25,342.07 L328.5,341.6 L329.67,341.01 L330.77,340.3 L331.82,339.47 L332.83,338.51 L333.82,337.42 L334.8,336.2 L335.76,334.97 L336.7,333.74 L337.61,332.39 L338.5,330.78 L339.4,328.76 L340.3,326.2 L340.76,324.63 L341.22,322.81 L341.68,320.79 L342.14,318.63 L342.6,316.37 L343.06,314.06 L343.51,311.74 L343.96,309.46 L344.41,307.26 L344.85,305.21 L345.28,303.34 L345.7,301.7 L346.12,300.26 L346.55,298.95 L346.98,297.75 L347.41,296.66 L347.84,295.65 L348.25,294.72 L348.65,293.85 L349.03,293.03 L349.39,292.25 L349.73,291.5 L350.03,290.75 L350.3,290 L350.53,289.28 L350.72,288.62 L350.87,288.01 L351,287.45 L351.11,286.93 L351.19,286.43 L351.27,285.96 L351.34,285.49 L351.42,285.03 L351.5,284.57 L351.59,284.1 L351.7,283.6 L351.82,283.09 L351.93,282.59 L352.04,282.09 L352.14,281.59 L352.25,281.1 L352.36,280.61 L352.47,280.13 L352.59,279.65 L352.72,279.18 L352.87,278.71 L353.03,278.25 L353.2,277.8 L353.39,277.34 L353.59,276.88 L353.81,276.41 L354.04,275.94 L354.27,275.48 L354.52,275.03 L354.77,274.59 L355.03,274.18 L355.29,273.79 L355.56,273.42 L355.83,273.09 L356.1,272.8 L356.37,272.54 L356.65,272.31 L356.93,272.11 L357.22,271.93 L357.51,271.77 L357.81,271.64 L358.11,271.54 L358.42,271.45 L358.73,271.38 L359.05,271.34 L359.37,271.31 L359.7,271.3 L360.05,271.32 L360.43,271.39 L360.83,271.5 L361.24,271.63 L361.66,271.79 L362.07,271.96 L362.48,272.13 L362.86,272.3 L363.21,272.46 L363.52,272.6 L363.79,272.72 L364,272.8" stroke="#8c8cf0" stroke-width="0.75" fill="none" stroke-dasharray="1.3 1.1"/>
<g fill="#d6d6fb" stroke="#8c8cf0" stroke-width="0.95"><circle cx="277.8" cy="329.8" r="1.4"/><circle cx="279.09" cy="327.37" r="1.4"/><circle cx="280.38" cy="324.98" r="1.4"/><circle cx="281.75" cy="322.59" r="1.4"/><circle cx="283.08" cy="320.51" r="1.4"/><circle cx="284.39" cy="318.61" r="1.4"/><circle cx="285.72" cy="316.79" r="1.4"/><circle cx="287.03" cy="315.16" r="1.4"/><circle cx="288.33" cy="313.68" r="1.4"/><circle cx="289.71" cy="312.1" r="1.4"/><circle cx="291.06" cy="311" r="1.4"/><circle cx="292.41" cy="310.82" r="1.4"/><circle cx="293.74" cy="311.51" r="1.4"/><circle cx="295.13" cy="312.85" r="1.4"/><circle cx="296.45" cy="314.49" r="1.4"/><circle cx="297.79" cy="316.33" r="1.4"/><circle cx="299.14" cy="318.45" r="1.4"/><circle cx="300.43" cy="320.75" r="1.4"/><circle cx="301.76" cy="323.2" r="1.4"/><circle cx="303.13" cy="325.65" r="1.4"/><circle cx="304.42" cy="327.78" r="1.4"/><circle cx="305.79" cy="330.11" r="1.4"/><circle cx="307.09" cy="332.32" r="1.4"/><circle cx="308.44" cy="334.45" r="1.4"/><circle cx="309.83" cy="336.38" r="1.4"/><circle cx="311.17" cy="337.88" r="1.4"/><circle cx="312.6" cy="339.1" r="1.4"/><circle cx="313.97" cy="340.03" r="1.4"/><circle cx="315.39" cy="340.81" r="1.4"/><circle cx="316.82" cy="341.45" r="1.4"/><circle cx="318.24" cy="341.96" r="1.4"/><circle cx="319.63" cy="342.35" r="1.4"/><circle cx="320.96" cy="342.62" r="1.4"/><circle cx="322.29" cy="342.75" r="1.4"/><circle cx="323.6" cy="342.75" r="1.4"/><circle cx="325.02" cy="342.61" r="1.4"/><circle cx="326.39" cy="342.32" r="1.4"/><circle cx="327.7" cy="341.92" r="1.4"/><circle cx="329.05" cy="341.34" r="1.4"/><circle cx="330.4" cy="340.56" r="1.4"/><circle cx="331.77" cy="339.51" r="1.4"/><circle cx="333.07" cy="338.25" r="1.4"/><circle cx="334.44" cy="336.66" r="1.4"/><circle cx="335.78" cy="334.95" r="1.4"/><circle cx="337.15" cy="333.1" r="1.4"/><circle cx="338.48" cy="330.83" r="1.4"/><circle cx="339.8" cy="327.69" r="1.4"/><circle cx="341.05" cy="323.5" r="1.4"/><circle cx="342.24" cy="318.13" r="1.4"/><circle cx="343.43" cy="312.16" r="1.4"/><circle cx="344.63" cy="306.21" r="1.4"/><circle cx="345.86" cy="301.13" r="1.4"/><circle cx="347.14" cy="297.35" r="1.4"/><circle cx="348.43" cy="294.34" r="1.4"/><circle cx="349.72" cy="291.51" r="1.4"/><circle cx="350.97" cy="287.59" r="1.4"/><circle cx="352.13" cy="281.62" r="1.4"/><circle cx="353.36" cy="277.41" r="1.4"/><circle cx="354.65" cy="274.8" r="1.4"/><circle cx="355.94" cy="272.96" r="1.4"/><circle cx="357.26" cy="271.91" r="1.4"/><circle cx="358.56" cy="271.42" r="1.4"/><circle cx="359.86" cy="271.31" r="1.4"/><circle cx="361.17" cy="271.61" r="1.4"/><circle cx="362.48" cy="272.13" r="1.4"/><circle cx="363.8" cy="272.72" r="1.4"/></g>
<path d="M298.9,365.7 L300.48,365.12 L302.75,364.3 L305.32,363.38 L307.8,362.5 L309.7,361.89 L311.67,361.3 L313.64,360.7 L315.57,360.04 L317.4,359.3 L319.18,358.44 L320.95,357.5 L322.63,356.5 L324.14,355.49 L325.4,354.5 L326.34,353.65 L327.01,352.91 L327.52,352.12 L327.98,351.1 L328.5,349.7 L328.95,348.17 L329.36,346.38 L329.76,344.4 L330.18,342.3 L330.65,340.14 L331.2,338 L331.75,336.22 L332.35,334.46 L333,332.68 L333.67,330.83 L334.35,328.87 L335.04,326.74 L335.7,324.4 L336.17,322.59 L336.66,320.64 L337.15,318.57 L337.66,316.42 L338.16,314.22 L338.64,312 L339.11,309.79 L339.54,307.64 L339.94,305.56 L340.3,303.6 L340.6,301.69 L340.86,299.77 L341.08,297.86 L341.28,295.98 L341.45,294.16 L341.61,292.4 L341.77,290.73 L341.93,289.18 L342.1,287.76 L342.3,286.5 L342.51,285.44 L342.72,284.6 L342.92,283.93 L343.13,283.38 L343.34,282.91 L343.56,282.46 L343.78,281.99 L344.01,281.46 L344.25,280.81 L344.5,280 L344.76,279.03 L345.05,277.94 L345.34,276.76 L345.64,275.52 L345.95,274.24 L346.26,272.97 L346.56,271.72 L346.85,270.52 L347.14,269.4 L347.4,268.4 L347.65,267.5 L347.87,266.66 L348.09,265.87 L348.3,265.14 L348.5,264.44 L348.7,263.77 L348.91,263.12 L349.13,262.48 L349.35,261.84 L349.6,261.2 L349.86,260.57 L350.12,259.99 L350.4,259.43 L350.68,258.88 L350.96,258.35 L351.26,257.81 L351.56,257.26 L351.86,256.68 L352.18,256.06 L352.5,255.4 L352.83,254.68 L353.16,253.89 L353.51,253.07 L353.86,252.22 L354.21,251.36 L354.58,250.5 L354.95,249.66 L355.32,248.85 L355.71,248.09 L356.1,247.4 L356.49,246.78 L356.87,246.21 L357.24,245.68 L357.63,245.18 L358.02,244.71 L358.43,244.25 L358.87,243.79 L359.34,243.32 L359.85,242.83 L360.4,242.3 L361,241.75 L361.65,241.18 L362.33,240.61 L363.04,240.03 L363.77,239.44 L364.54,238.85 L365.31,238.26 L366.1,237.67 L366.9,237.08 L367.7,236.5 L368.51,235.93 L369.34,235.39 L370.18,234.85 L371.04,234.32 L371.91,233.78 L372.8,233.23 L373.69,232.65 L374.59,232.05 L375.49,231.4 L376.4,230.7 L377.36,229.91 L378.4,229.01 L379.49,228.03 L380.6,227.01 L381.69,225.99 L382.75,224.99 L383.72,224.06 L384.6,223.23 L385.33,222.53 L385.9,222" stroke="#c184e2" stroke-width="0.75" fill="none" stroke-dasharray="1.3 1.1"/>
<g fill="#ebd5f5" stroke="#c184e2" stroke-width="0.95"><circle cx="298.9" cy="365.7" r="1.4"/><circle cx="300.36" cy="365.17" r="1.4"/><circle cx="301.83" cy="364.64" r="1.4"/><circle cx="303.28" cy="364.11" r="1.4"/><circle cx="304.6" cy="363.63" r="1.4"/><circle cx="305.92" cy="363.16" r="1.4"/><circle cx="307.4" cy="362.64" r="1.4"/><circle cx="308.74" cy="362.19" r="1.4"/><circle cx="310.09" cy="361.77" r="1.4"/><circle cx="311.47" cy="361.36" r="1.4"/><circle cx="312.85" cy="360.94" r="1.4"/><circle cx="314.23" cy="360.51" r="1.4"/><circle cx="315.57" cy="360.04" r="1.4"/><circle cx="317.04" cy="359.46" r="1.4"/><circle cx="318.47" cy="358.8" r="1.4"/><circle cx="319.89" cy="358.07" r="1.4"/><circle cx="321.3" cy="357.3" r="1.4"/><circle cx="322.63" cy="356.5" r="1.4"/><circle cx="324" cy="355.59" r="1.4"/><circle cx="325.4" cy="354.5" r="1.4"/><circle cx="326.7" cy="353.28" r="1.4"/><circle cx="327.98" cy="351.1" r="1.4"/><circle cx="329.24" cy="346.94" r="1.4"/><circle cx="330.45" cy="341" r="1.4"/><circle cx="331.68" cy="336.42" r="1.4"/><circle cx="332.97" cy="332.76" r="1.4"/><circle cx="334.24" cy="329.21" r="1.4"/><circle cx="335.51" cy="325.12" r="1.4"/><circle cx="336.74" cy="320.3" r="1.4"/><circle cx="337.97" cy="315.05" r="1.4"/><circle cx="339.18" cy="309.42" r="1.4"/><circle cx="340.36" cy="303.24" r="1.4"/><circle cx="341.37" cy="295.01" r="1.4"/><circle cx="342.34" cy="286.28" r="1.4"/><circle cx="343.59" cy="282.4" r="1.4"/><circle cx="344.85" cy="278.69" r="1.4"/><circle cx="346.07" cy="273.76" r="1.4"/><circle cx="347.28" cy="268.86" r="1.4"/><circle cx="348.5" cy="264.44" r="1.4"/><circle cx="349.77" cy="260.78" r="1.4"/><circle cx="351.04" cy="258.2" r="1.4"/><circle cx="352.35" cy="255.72" r="1.4"/><circle cx="353.64" cy="252.74" r="1.4"/><circle cx="354.94" cy="249.67" r="1.4"/><circle cx="356.25" cy="247.16" r="1.4"/><circle cx="357.54" cy="245.29" r="1.4"/><circle cx="358.86" cy="243.8" r="1.4"/><circle cx="360.18" cy="242.5" r="1.4"/><circle cx="361.51" cy="241.3" r="1.4"/><circle cx="362.81" cy="240.22" r="1.4"/><circle cx="364.13" cy="239.17" r="1.4"/><circle cx="365.45" cy="238.16" r="1.4"/><circle cx="366.79" cy="237.16" r="1.4"/><circle cx="368.16" cy="236.18" r="1.4"/><circle cx="369.48" cy="235.29" r="1.4"/><circle cx="370.85" cy="234.44" r="1.4"/><circle cx="372.16" cy="233.63" r="1.4"/><circle cx="373.5" cy="232.77" r="1.4"/><circle cx="374.86" cy="231.85" r="1.4"/><circle cx="376.23" cy="230.84" r="1.4"/><circle cx="377.59" cy="229.71" r="1.4"/><circle cx="378.89" cy="228.57" r="1.4"/><circle cx="380.24" cy="227.34" r="1.4"/><circle cx="381.59" cy="226.08" r="1.4"/><circle cx="382.97" cy="224.78" r="1.4"/><circle cx="384.3" cy="223.51" r="1.4"/><circle cx="385.6" cy="222.28" r="1.4"/></g>
<path d="M321.4,374.5 L323.04,373.78 L325.39,372.75 L327.96,371.59 L330.2,370.5 L332.03,369.52 L333.7,368.55 L335.25,367.56 L336.7,366.5 L338.04,365.41 L339.26,364.3 L340.4,363.09 L341.5,361.7 L342.59,360.05 L343.65,358.21 L344.63,356.31 L345.5,354.5 L346.19,353.04 L346.75,351.77 L347.28,350.24 L347.9,348 L348.31,346.3 L348.74,344.36 L349.19,342.22 L349.65,339.92 L350.13,337.51 L350.61,335.02 L351.1,332.5 L351.45,330.66 L351.81,328.72 L352.18,326.68 L352.55,324.6 L352.93,322.49 L353.3,320.38 L353.68,318.31 L354.06,316.3 L354.43,314.39 L354.8,312.6 L355.17,310.91 L355.55,309.27 L355.94,307.69 L356.32,306.17 L356.71,304.69 L357.08,303.27 L357.44,301.91 L357.78,300.59 L358.11,299.32 L358.4,298.1 L358.66,296.95 L358.9,295.87 L359.11,294.86 L359.31,293.91 L359.49,292.99 L359.66,292.11 L359.84,291.26 L360.01,290.41 L360.2,289.56 L360.4,288.7 L360.62,287.83 L360.84,286.98 L361.07,286.13 L361.3,285.29 L361.54,284.47 L361.77,283.67 L361.99,282.89 L362.21,282.14 L362.41,281.4 L362.6,280.7 L362.77,280.04 L362.92,279.45 L363.05,278.89 L363.18,278.36 L363.3,277.84 L363.42,277.32 L363.55,276.78 L363.68,276.21 L363.83,275.59 L364,274.9 L364.18,274.14 L364.36,273.32 L364.55,272.46 L364.75,271.56 L364.96,270.64 L365.17,269.71 L365.4,268.79 L365.65,267.89 L365.92,267.02 L366.2,266.2 L366.51,265.42 L366.85,264.68 L367.2,263.95 L367.58,263.25 L367.96,262.56 L368.36,261.87 L368.75,261.17 L369.14,260.47 L369.53,259.75 L369.9,259 L370.27,258.23 L370.64,257.43 L371.01,256.61 L371.38,255.79 L371.75,254.96 L372.12,254.13 L372.47,253.31 L372.83,252.52 L373.17,251.74 L373.5,251 L373.81,250.28 L374.08,249.57 L374.33,248.87 L374.57,248.19 L374.81,247.53 L375.06,246.88 L375.34,246.25 L375.65,245.64 L376,245.06 L376.4,244.5 L376.85,243.98 L377.33,243.51 L377.84,243.07 L378.37,242.66 L378.94,242.26 L379.53,241.86 L380.16,241.46 L380.81,241.04 L381.49,240.59 L382.2,240.1 L382.96,239.56 L383.78,238.96 L384.64,238.32 L385.54,237.67 L386.46,237.01 L387.39,236.37 L388.31,235.76 L389.21,235.2 L390.08,234.71 L390.9,234.3 L391.67,234 L392.38,233.8 L393.07,233.69 L393.73,233.62 L394.39,233.58 L395.05,233.54 L395.74,233.48 L396.47,233.37 L397.25,233.19 L398.1,232.9 L399.06,232.49 L400.16,231.97 L401.34,231.38 L402.57,230.73 L403.8,230.06 L405,229.4 L406.12,228.77 L407.12,228.21 L407.96,227.75 L408.6,227.4" stroke="#d75b78" stroke-width="0.75" fill="none" stroke-dasharray="1.3 1.1"/>
<g fill="#f3c6d0" stroke="#d75b78" stroke-width="0.95"><circle cx="321.4" cy="374.5" r="1.4"/><circle cx="322.86" cy="373.86" r="1.4"/><circle cx="324.36" cy="373.21" r="1.4"/><circle cx="325.82" cy="372.56" r="1.4"/><circle cx="327.32" cy="371.88" r="1.4"/><circle cx="328.76" cy="371.21" r="1.4"/><circle cx="330.2" cy="370.5" r="1.4"/><circle cx="331.59" cy="369.76" r="1.4"/><circle cx="333.02" cy="368.95" r="1.4"/><circle cx="334.36" cy="368.14" r="1.4"/><circle cx="335.74" cy="367.21" r="1.4"/><circle cx="337.05" cy="366.23" r="1.4"/><circle cx="338.35" cy="365.14" r="1.4"/><circle cx="339.74" cy="363.81" r="1.4"/><circle cx="341.04" cy="362.3" r="1.4"/><circle cx="342.41" cy="360.34" r="1.4"/><circle cx="343.74" cy="358.05" r="1.4"/><circle cx="345.08" cy="355.38" r="1.4"/><circle cx="346.39" cy="352.61" r="1.4"/><circle cx="347.68" cy="348.85" r="1.4"/><circle cx="348.88" cy="343.73" r="1.4"/><circle cx="350.07" cy="337.82" r="1.4"/><circle cx="351.24" cy="331.79" r="1.4"/><circle cx="352.39" cy="325.51" r="1.4"/><circle cx="353.54" cy="319.06" r="1.4"/><circle cx="354.73" cy="312.94" r="1.4"/><circle cx="355.93" cy="307.74" r="1.4"/><circle cx="357.17" cy="302.94" r="1.4"/><circle cx="358.4" cy="298.1" r="1.4"/><circle cx="359.58" cy="292.51" r="1.4"/><circle cx="360.79" cy="287.16" r="1.4"/><circle cx="362.02" cy="282.8" r="1.4"/><circle cx="363.23" cy="278.12" r="1.4"/><circle cx="364.44" cy="273" r="1.4"/><circle cx="365.66" cy="267.87" r="1.4"/><circle cx="366.94" cy="264.47" r="1.4"/><circle cx="368.25" cy="262.04" r="1.4"/><circle cx="369.57" cy="259.67" r="1.4"/><circle cx="370.85" cy="256.96" r="1.4"/><circle cx="372.13" cy="254.1" r="1.4"/><circle cx="373.4" cy="251.22" r="1.4"/><circle cx="374.68" cy="247.89" r="1.4"/><circle cx="375.96" cy="245.11" r="1.4"/><circle cx="377.27" cy="243.56" r="1.4"/><circle cx="378.57" cy="242.51" r="1.4"/><circle cx="379.92" cy="241.61" r="1.4"/><circle cx="381.22" cy="240.76" r="1.4"/><circle cx="382.57" cy="239.84" r="1.4"/><circle cx="383.93" cy="238.85" r="1.4"/><circle cx="385.24" cy="237.89" r="1.4"/><circle cx="386.6" cy="236.92" r="1.4"/><circle cx="387.97" cy="235.98" r="1.4"/><circle cx="389.31" cy="235.14" r="1.4"/><circle cx="390.66" cy="234.41" r="1.4"/><circle cx="392.02" cy="233.89" r="1.4"/><circle cx="393.38" cy="233.65" r="1.4"/><circle cx="394.68" cy="233.57" r="1.4"/><circle cx="396.05" cy="233.44" r="1.4"/><circle cx="397.42" cy="233.14" r="1.4"/><circle cx="398.75" cy="232.63" r="1.4"/><circle cx="400.13" cy="231.99" r="1.4"/><circle cx="401.54" cy="231.27" r="1.4"/><circle cx="402.89" cy="230.56" r="1.4"/><circle cx="404.22" cy="229.83" r="1.4"/><circle cx="405.61" cy="229.06" r="1.4"/><circle cx="406.95" cy="228.31" r="1.4"/><circle cx="408.31" cy="227.55" r="1.4"/></g>
<path d="M347.1,377.7 L348.55,377.42 L350.62,377.07 L353.01,376.61 L355.4,376.02 L357.5,375.3 L359.31,374.41 L361.03,373.37 L362.65,372.21 L364.18,370.97 L365.6,369.7 L366.9,368.38 L368.09,366.97 L369.19,365.51 L370.22,364.02 L371.2,362.5 L372.14,360.98 L373.03,359.44 L373.85,357.86 L374.61,356.22 L375.3,354.5 L375.87,352.84 L376.32,351.26 L376.73,349.53 L377.16,347.45 L377.7,344.8 L378.01,343.22 L378.34,341.5 L378.69,339.65 L379.05,337.69 L379.42,335.64 L379.8,333.5 L380.19,331.29 L380.59,329.03 L380.99,326.73 L381.4,324.4 L381.72,322.55 L382.06,320.6 L382.4,318.57 L382.76,316.47 L383.11,314.34 L383.48,312.19 L383.84,310.03 L384.2,307.89 L384.56,305.78 L384.91,303.73 L385.25,301.75 L385.58,299.87 L385.9,298.1 L386.21,296.41 L386.53,294.76 L386.85,293.16 L387.16,291.6 L387.47,290.09 L387.78,288.63 L388.07,287.22 L388.35,285.87 L388.62,284.57 L388.87,283.33 L389.1,282.16 L389.31,281.05 L389.5,280 L389.65,279.06 L389.76,278.26 L389.84,277.56 L389.89,276.95 L389.92,276.41 L389.94,275.91 L389.96,275.44 L389.98,274.96 L390.01,274.46 L390.06,273.92 L390.14,273.31 L390.25,272.61 L390.4,271.8 L390.58,270.88 L390.77,269.89 L390.97,268.83 L391.19,267.71 L391.42,266.56 L391.67,265.37 L391.94,264.17 L392.22,262.97 L392.53,261.77 L392.86,260.59 L393.22,259.45 L393.59,258.34 L394,257.3 L394.45,256.29 L394.96,255.28 L395.51,254.28 L396.09,253.29 L396.71,252.31 L397.33,251.36 L397.97,250.42 L398.59,249.52 L399.21,248.64 L399.79,247.79 L400.34,246.99 L400.85,246.22 L401.3,245.5 L401.68,244.83 L401.98,244.21 L402.23,243.63 L402.44,243.1 L402.62,242.59 L402.79,242.12 L402.96,241.67 L403.15,241.24 L403.38,240.83 L403.65,240.42 L403.98,240.02 L404.39,239.61 L404.9,239.2 L405.5,238.79 L406.17,238.39 L406.92,238 L407.72,237.63 L408.56,237.26 L409.44,236.91 L410.35,236.56 L411.28,236.23 L412.21,235.9 L413.14,235.59 L414.05,235.28 L414.94,234.99 L415.8,234.7 L416.65,234.44 L417.51,234.2 L418.39,233.99 L419.28,233.8 L420.16,233.62 L421.04,233.44 L421.92,233.27 L422.78,233.09 L423.62,232.9 L424.44,232.69 L425.23,232.46 L425.98,232.2 L426.7,231.9 L427.39,231.56 L428.08,231.16 L428.76,230.72 L429.42,230.25 L430.07,229.77 L430.68,229.27 L431.27,228.78 L431.82,228.3 L432.34,227.85 L432.81,227.43 L433.23,227.06 L433.59,226.75 L433.9,226.5" stroke="#f3a24d" stroke-width="0.75" fill="none" stroke-dasharray="1.3 1.1"/>
<g fill="#fbdcb8" stroke="#f3a24d" stroke-width="0.95"><circle cx="347.1" cy="377.7" r="1.4"/><circle cx="348.45" cy="377.44" r="1.4"/><circle cx="349.95" cy="377.18" r="1.4"/><circle cx="351.46" cy="376.91" r="1.4"/><circle cx="352.82" cy="376.64" r="1.4"/><circle cx="354.2" cy="376.34" r="1.4"/><circle cx="355.53" cy="375.99" r="1.4"/><circle cx="356.95" cy="375.52" r="1.4"/><circle cx="358.36" cy="374.9" r="1.4"/><circle cx="359.7" cy="374.19" r="1.4"/><circle cx="361.15" cy="373.28" r="1.4"/><circle cx="362.53" cy="372.3" r="1.4"/><circle cx="363.84" cy="371.26" r="1.4"/><circle cx="365.21" cy="370.06" r="1.4"/><circle cx="366.6" cy="368.71" r="1.4"/><circle cx="367.96" cy="367.14" r="1.4"/><circle cx="369.31" cy="365.35" r="1.4"/><circle cx="370.65" cy="363.36" r="1.4"/><circle cx="372" cy="361.21" r="1.4"/><circle cx="373.33" cy="358.88" r="1.4"/><circle cx="374.65" cy="356.13" r="1.4"/><circle cx="375.93" cy="352.63" r="1.4"/><circle cx="377.15" cy="347.54" r="1.4"/><circle cx="378.32" cy="341.6" r="1.4"/><circle cx="379.47" cy="335.33" r="1.4"/><circle cx="380.61" cy="328.9" r="1.4"/><circle cx="381.75" cy="322.4" r="1.4"/><circle cx="382.9" cy="315.63" r="1.4"/><circle cx="384.03" cy="308.9" r="1.4"/><circle cx="385.17" cy="302.24" r="1.4"/><circle cx="386.33" cy="295.8" r="1.4"/><circle cx="387.5" cy="289.97" r="1.4"/><circle cx="388.69" cy="284.21" r="1.4"/><circle cx="389.82" cy="277.73" r="1.4"/><circle cx="390.8" cy="269.73" r="1.4"/><circle cx="391.97" cy="264.01" r="1.4"/><circle cx="393.2" cy="259.5" r="1.4"/><circle cx="394.49" cy="256.21" r="1.4"/><circle cx="395.81" cy="253.76" r="1.4"/><circle cx="397.13" cy="251.67" r="1.4"/><circle cx="398.42" cy="249.76" r="1.4"/><circle cx="399.72" cy="247.9" r="1.4"/><circle cx="401.04" cy="245.92" r="1.4"/><circle cx="402.33" cy="243.4" r="1.4"/><circle cx="403.61" cy="240.47" r="1.4"/><circle cx="404.95" cy="239.16" r="1.4"/><circle cx="406.28" cy="238.33" r="1.4"/><circle cx="407.64" cy="237.66" r="1.4"/><circle cx="408.97" cy="237.09" r="1.4"/><circle cx="410.3" cy="236.58" r="1.4"/><circle cx="411.65" cy="236.09" r="1.4"/><circle cx="413.02" cy="235.63" r="1.4"/><circle cx="414.35" cy="235.18" r="1.4"/><circle cx="415.72" cy="234.73" r="1.4"/><circle cx="417.05" cy="234.32" r="1.4"/><circle cx="418.42" cy="233.99" r="1.4"/><circle cx="419.8" cy="233.69" r="1.4"/><circle cx="421.18" cy="233.42" r="1.4"/><circle cx="422.54" cy="233.14" r="1.4"/><circle cx="423.86" cy="232.84" r="1.4"/><circle cx="425.19" cy="232.47" r="1.4"/><circle cx="426.49" cy="231.99" r="1.4"/><circle cx="427.85" cy="231.3" r="1.4"/><circle cx="429.17" cy="230.44" r="1.4"/><circle cx="430.48" cy="229.44" r="1.4"/><circle cx="431.78" cy="228.34" r="1.4"/><circle cx="433.09" cy="227.18" r="1.4"/></g>
<path d="M372.9,388.2 L373.89,387.12 L375.3,385.62 L376.93,383.84 L378.6,381.95 L380.1,380.1 L381.47,378.25 L382.83,376.29 L384.15,374.3 L385.39,372.34 L386.5,370.5 L387.44,368.84 L388.23,367.3 L388.96,365.8 L389.69,364.23 L390.5,362.5 L391.43,360.5 L392.43,358.3 L393.45,356.05 L394.42,353.9 L395.3,352 L396.04,350.57 L396.67,349.51 L397.27,348.49 L397.89,347.17 L398.6,345.2 L399.1,343.57 L399.62,341.72 L400.16,339.67 L400.71,337.48 L401.29,335.17 L401.88,332.8 L402.48,330.39 L403.1,328 L403.61,326.09 L404.14,324.17 L404.68,322.23 L405.23,320.25 L405.79,318.22 L406.36,316.15 L406.93,314.02 L407.49,311.83 L408.05,309.56 L408.6,307.2 L409.02,305.28 L409.45,303.21 L409.89,301.04 L410.33,298.8 L410.77,296.5 L411.2,294.19 L411.63,291.89 L412.06,289.63 L412.47,287.44 L412.88,285.36 L413.27,283.4 L413.64,281.61 L414,280 L414.33,278.59 L414.63,277.35 L414.92,276.24 L415.18,275.26 L415.43,274.38 L415.68,273.58 L415.92,272.82 L416.17,272.1 L416.42,271.39 L416.68,270.67 L416.97,269.91 L417.27,269.1 L417.6,268.2 L417.95,267.24 L418.29,266.26 L418.65,265.26 L419.01,264.24 L419.38,263.22 L419.76,262.19 L420.16,261.17 L420.57,260.16 L421.01,259.17 L421.46,258.2 L421.95,257.26 L422.46,256.36 L423,255.5 L423.57,254.67 L424.16,253.86 L424.77,253.06 L425.41,252.28 L426.07,251.53 L426.75,250.8 L427.45,250.09 L428.17,249.4 L428.91,248.74 L429.68,248.11 L430.46,247.51 L431.27,246.94 L432.1,246.4 L432.95,245.9 L433.84,245.44 L434.75,245.01 L435.68,244.62 L436.64,244.25 L437.62,243.91 L438.61,243.59 L439.62,243.29 L440.64,243 L441.67,242.72 L442.71,242.45 L443.75,242.17 L444.8,241.9 L445.9,241.63 L447.08,241.36 L448.32,241.1 L449.6,240.85 L450.91,240.61 L452.2,240.38 L453.47,240.16 L454.7,239.96 L455.85,239.77 L456.91,239.6 L457.85,239.45 L458.65,239.31 L459.3,239.2" stroke="#5fb4ab" stroke-width="0.75" fill="none" stroke-dasharray="1.3 1.1"/>
<g fill="#c9e7e3" stroke="#5fb4ab" stroke-width="0.95"><circle cx="372.9" cy="388.2" r="1.4"/><circle cx="374.27" cy="386.71" r="1.4"/><circle cx="375.65" cy="385.24" r="1.4"/><circle cx="377.03" cy="383.73" r="1.4"/><circle cx="378.42" cy="382.16" r="1.4"/><circle cx="379.71" cy="380.6" r="1.4"/><circle cx="381.06" cy="378.82" r="1.4"/><circle cx="382.38" cy="376.95" r="1.4"/><circle cx="383.67" cy="375.03" r="1.4"/><circle cx="385.01" cy="372.95" r="1.4"/><circle cx="386.32" cy="370.81" r="1.4"/><circle cx="387.63" cy="368.48" r="1.4"/><circle cx="388.95" cy="365.83" r="1.4"/><circle cx="390.27" cy="362.98" r="1.4"/><circle cx="391.57" cy="360.2" r="1.4"/><circle cx="392.9" cy="357.27" r="1.4"/><circle cx="394.21" cy="354.38" r="1.4"/><circle cx="395.51" cy="351.57" r="1.4"/><circle cx="396.84" cy="349.24" r="1.4"/><circle cx="398.15" cy="346.5" r="1.4"/><circle cx="399.43" cy="342.41" r="1.4"/><circle cx="400.66" cy="337.68" r="1.4"/><circle cx="401.88" cy="332.8" r="1.4"/><circle cx="403.1" cy="328" r="1.4"/><circle cx="404.37" cy="323.34" r="1.4"/><circle cx="405.61" cy="318.89" r="1.4"/><circle cx="406.88" cy="314.21" r="1.4"/><circle cx="408.14" cy="309.19" r="1.4"/><circle cx="409.36" cy="303.66" r="1.4"/><circle cx="410.56" cy="297.6" r="1.4"/><circle cx="411.74" cy="291.31" r="1.4"/><circle cx="412.91" cy="285.2" r="1.4"/><circle cx="414.1" cy="279.58" r="1.4"/><circle cx="415.31" cy="274.79" r="1.4"/><circle cx="416.58" cy="270.96" r="1.4"/><circle cx="417.86" cy="267.48" r="1.4"/><circle cx="419.13" cy="263.9" r="1.4"/><circle cx="420.42" cy="260.53" r="1.4"/><circle cx="421.73" cy="257.68" r="1.4"/><circle cx="423.05" cy="255.42" r="1.4"/><circle cx="424.38" cy="253.57" r="1.4"/><circle cx="425.69" cy="251.96" r="1.4"/><circle cx="427.03" cy="250.5" r="1.4"/><circle cx="428.38" cy="249.21" r="1.4"/><circle cx="429.74" cy="248.06" r="1.4"/><circle cx="431.09" cy="247.07" r="1.4"/><circle cx="432.42" cy="246.21" r="1.4"/><circle cx="433.73" cy="245.49" r="1.4"/><circle cx="435.11" cy="244.85" r="1.4"/><circle cx="436.45" cy="244.32" r="1.4"/><circle cx="437.83" cy="243.84" r="1.4"/><circle cx="439.15" cy="243.43" r="1.4"/><circle cx="440.49" cy="243.04" r="1.4"/><circle cx="441.85" cy="242.67" r="1.4"/><circle cx="443.22" cy="242.31" r="1.4"/><circle cx="444.6" cy="241.95" r="1.4"/><circle cx="445.94" cy="241.62" r="1.4"/><circle cx="447.28" cy="241.31" r="1.4"/><circle cx="448.7" cy="241.02" r="1.4"/><circle cx="450.04" cy="240.77" r="1.4"/><circle cx="451.39" cy="240.52" r="1.4"/><circle cx="452.72" cy="240.29" r="1.4"/><circle cx="454.14" cy="240.05" r="1.4"/><circle cx="455.47" cy="239.83" r="1.4"/><circle cx="456.8" cy="239.62" r="1.4"/><circle cx="458.11" cy="239.41" r="1.4"/></g>
<text x="39" y="160.8" font-size="9.3" font-weight="normal" text-anchor="middle" fill="#1a1a1a" >10</text>
<text x="60.75" y="168" font-size="9.3" font-weight="normal" text-anchor="middle" fill="#1a1a1a" >7.5</text>
<text x="83" y="173.5" font-size="9.3" font-weight="normal" text-anchor="middle" fill="#1a1a1a" >5</text>
<text x="108.25" y="180.7" font-size="9.3" font-weight="normal" text-anchor="middle" fill="#1a1a1a" >2.5</text>
<text x="132.1" y="186.7" font-size="9.3" font-weight="normal" text-anchor="middle" fill="#1a1a1a" >0</text>
<text x="138.85" y="189.6" font-size="9.3" font-weight="normal" text-anchor="middle" fill="#1a1a1a" >5</text>
<text x="153.5" y="184" font-size="9.3" font-weight="normal" text-anchor="middle" fill="#1a1a1a" >4</text>
<text x="165.75" y="179" font-size="9.3" font-weight="normal" text-anchor="middle" fill="#1a1a1a" >3</text>
<text x="178.5" y="174" font-size="9.3" font-weight="normal" text-anchor="middle" fill="#1a1a1a" >2</text>
<text x="190.5" y="169.3" font-size="9.3" font-weight="normal" text-anchor="middle" fill="#1a1a1a" >1</text>
<text x="202.5" y="164.5" font-size="9.3" font-weight="normal" text-anchor="middle" fill="#1a1a1a" >0</text>
<text x="213.35" y="160.6" font-size="9.3" font-weight="normal" text-anchor="middle" fill="#1a1a1a" >-1</text>
<text x="223.9" y="156.7" font-size="9.3" font-weight="normal" text-anchor="middle" fill="#1a1a1a" >-2</text>
<text x="10.9" y="167.3" font-size="10" font-weight="bold" text-anchor="start" fill="#000" transform="rotate(13.5 10.9 167.3)" textLength="132" lengthAdjust="spacingAndGlyphs">Concentration of MSN-TA (%)</text>
<text x="172.5" y="188" font-size="10" font-weight="bold" text-anchor="start" fill="#000" transform="rotate(-17.6 172.5 188)" textLength="43" lengthAdjust="spacingAndGlyphs">log (f/Hz)</text>
<text x="42.3" y="33.2" font-size="12.8" font-weight="bold" text-anchor="start" fill="#000" >2 days</text>
<text x="-0.5" y="11.6" font-size="16" font-weight="bold" text-anchor="start" fill="#000" >a</text>
<text x="10" y="16.2" font-size="10.5" font-weight="bold" text-anchor="start" fill="#000" >1</text>
<text x="20.5" y="113.4" transform="rotate(-90 20.5 113.4)" font-size="9.8" font-weight="bold">log(|Z| <tspan font-weight="normal">/Ω·</tspan>cm<tspan font-size="6.5" dy="-3.5">2</tspan><tspan dy="3.5">)</tspan></text>
<text x="275" y="160.8" font-size="9.3" font-weight="normal" text-anchor="middle" fill="#1a1a1a" >10</text>
<text x="296.75" y="168" font-size="9.3" font-weight="normal" text-anchor="middle" fill="#1a1a1a" >7.5</text>
<text x="319" y="173.5" font-size="9.3" font-weight="normal" text-anchor="middle" fill="#1a1a1a" >5</text>
<text x="344.25" y="180.7" font-size="9.3" font-weight="normal" text-anchor="middle" fill="#1a1a1a" >2.5</text>
<text x="368.1" y="186.7" font-size="9.3" font-weight="normal" text-anchor="middle" fill="#1a1a1a" >0</text>
<text x="374.85" y="189.6" font-size="9.3" font-weight="normal" text-anchor="middle" fill="#1a1a1a" >5</text>
<text x="389.5" y="184" font-size="9.3" font-weight="normal" text-anchor="middle" fill="#1a1a1a" >4</text>
<text x="401.75" y="179" font-size="9.3" font-weight="normal" text-anchor="middle" fill="#1a1a1a" >3</text>
<text x="414.5" y="174" font-size="9.3" font-weight="normal" text-anchor="middle" fill="#1a1a1a" >2</text>
<text x="426.5" y="169.3" font-size="9.3" font-weight="normal" text-anchor="middle" fill="#1a1a1a" >1</text>
<text x="438.5" y="164.5" font-size="9.3" font-weight="normal" text-anchor="middle" fill="#1a1a1a" >0</text>
<text x="449.35" y="160.6" font-size="9.3" font-weight="normal" text-anchor="middle" fill="#1a1a1a" >-1</text>
<text x="459.9" y="156.7" font-size="9.3" font-weight="normal" text-anchor="middle" fill="#1a1a1a" >-2</text>
<text x="246.9" y="167.3" font-size="10" font-weight="bold" text-anchor="start" fill="#000" transform="rotate(13.5 246.9 167.3)" textLength="132" lengthAdjust="spacingAndGlyphs">Concentration of MSN-TA (%)</text>
<text x="408.5" y="188" font-size="10" font-weight="bold" text-anchor="start" fill="#000" transform="rotate(-17.6 408.5 188)" textLength="43" lengthAdjust="spacingAndGlyphs">log (f/Hz)</text>
<text x="278.3" y="33.2" font-size="12.8" font-weight="bold" text-anchor="start" fill="#000" >28 days</text>
<text x="235.5" y="11.6" font-size="16" font-weight="bold" text-anchor="start" fill="#000" >a</text>
<text x="246" y="16.2" font-size="10.5" font-weight="bold" text-anchor="start" fill="#000" >2</text>
<text x="256.5" y="113.4" transform="rotate(-90 256.5 113.4)" font-size="9.8" font-weight="bold">log(|Z| <tspan font-weight="normal">/Ω·</tspan>cm<tspan font-size="6.5" dy="-3.5">2</tspan><tspan dy="3.5">)</tspan></text>
<text x="39" y="372.8" font-size="9.3" font-weight="normal" text-anchor="middle" fill="#1a1a1a" >10</text>
<text x="60.75" y="380" font-size="9.3" font-weight="normal" text-anchor="middle" fill="#1a1a1a" >7.5</text>
<text x="83" y="385.5" font-size="9.3" font-weight="normal" text-anchor="middle" fill="#1a1a1a" >5</text>
<text x="108.25" y="392.7" font-size="9.3" font-weight="normal" text-anchor="middle" fill="#1a1a1a" >2.5</text>
<text x="132.1" y="398.7" font-size="9.3" font-weight="normal" text-anchor="middle" fill="#1a1a1a" >0</text>
<text x="142.65" y="400.7" font-size="9.3" font-weight="normal" text-anchor="middle" fill="#1a1a1a" >-2</text>
<text x="155.2" y="395" font-size="9.3" font-weight="normal" text-anchor="middle" fill="#1a1a1a" >-1</text>
<text x="167.75" y="390.5" font-size="9.3" font-weight="normal" text-anchor="middle" fill="#1a1a1a" >0</text>
<text x="180.75" y="386" font-size="9.3" font-weight="normal" text-anchor="middle" fill="#1a1a1a" >1</text>
<text x="191.6" y="381.4" font-size="9.3" font-weight="normal" text-anchor="middle" fill="#1a1a1a" >2</text>
<text x="203" y="376.8" font-size="9.3" font-weight="normal" text-anchor="middle" fill="#1a1a1a" >3</text>
<text x="213.25" y="372.3" font-size="9.3" font-weight="normal" text-anchor="middle" fill="#1a1a1a" >4</text>
<text x="223.35" y="369" font-size="9.3" font-weight="normal" text-anchor="middle" fill="#1a1a1a" >5</text>
<text x="10.9" y="379.3" font-size="10" font-weight="bold" text-anchor="start" fill="#000" transform="rotate(13.5 10.9 379.3)" textLength="132" lengthAdjust="spacingAndGlyphs">Concentration of MSN-TA (%)</text>
<text x="172.5" y="400" font-size="10" font-weight="bold" text-anchor="start" fill="#000" transform="rotate(-19.5 172.5 400)" textLength="43" lengthAdjust="spacingAndGlyphs">log (f/Hz)</text>
<text x="43.3" y="245.2" font-size="12.8" font-weight="bold" text-anchor="start" fill="#000" >2 days</text>
<text x="0.1" y="224.8" font-size="16" font-weight="bold" text-anchor="start" fill="#000" >c</text>
<text x="10.3" y="229.4" font-size="10.5" font-weight="bold" text-anchor="start" fill="#000" >1</text>
<text x="15.2" y="333.3" transform="rotate(-90 15.2 333.3)" font-size="9" font-weight="bold" textLength="91" lengthAdjust="spacingAndGlyphs">-Phase angle (degree)</text>
<text x="275" y="372.8" font-size="9.3" font-weight="normal" text-anchor="middle" fill="#1a1a1a" >10</text>
<text x="296.75" y="380" font-size="9.3" font-weight="normal" text-anchor="middle" fill="#1a1a1a" >7.5</text>
<text x="319" y="385.5" font-size="9.3" font-weight="normal" text-anchor="middle" fill="#1a1a1a" >5</text>
<text x="344.25" y="392.7" font-size="9.3" font-weight="normal" text-anchor="middle" fill="#1a1a1a" >2.5</text>
<text x="368.1" y="398.7" font-size="9.3" font-weight="normal" text-anchor="middle" fill="#1a1a1a" >0</text>
<text x="378.65" y="400.7" font-size="9.3" font-weight="normal" text-anchor="middle" fill="#1a1a1a" >-2</text>
<text x="391.2" y="395" font-size="9.3" font-weight="normal" text-anchor="middle" fill="#1a1a1a" >-1</text>
<text x="403.75" y="390.5" font-size="9.3" font-weight="normal" text-anchor="middle" fill="#1a1a1a" >0</text>
<text x="416.75" y="386" font-size="9.3" font-weight="normal" text-anchor="middle" fill="#1a1a1a" >1</text>
<text x="427.6" y="381.4" font-size="9.3" font-weight="normal" text-anchor="middle" fill="#1a1a1a" >2</text>
<text x="439" y="376.8" font-size="9.3" font-weight="normal" text-anchor="middle" fill="#1a1a1a" >3</text>
<text x="449.25" y="372.3" font-size="9.3" font-weight="normal" text-anchor="middle" fill="#1a1a1a" >4</text>
<text x="459.35" y="369" font-size="9.3" font-weight="normal" text-anchor="middle" fill="#1a1a1a" >5</text>
<text x="246.9" y="379.3" font-size="10" font-weight="bold" text-anchor="start" fill="#000" transform="rotate(13.5 246.9 379.3)" textLength="132" lengthAdjust="spacingAndGlyphs">Concentration of MSN-TA (%)</text>
<text x="408.5" y="400" font-size="10" font-weight="bold" text-anchor="start" fill="#000" transform="rotate(-19.5 408.5 400)" textLength="43" lengthAdjust="spacingAndGlyphs">log (f/Hz)</text>
<text x="279.3" y="245.2" font-size="12.8" font-weight="bold" text-anchor="start" fill="#000" >28 days</text>
<text x="236.1" y="224.8" font-size="16" font-weight="bold" text-anchor="start" fill="#000" >c</text>
<text x="246.3" y="229.4" font-size="10.5" font-weight="bold" text-anchor="start" fill="#000" >2</text>
<text x="251.2" y="333.3" transform="rotate(-90 251.2 333.3)" font-size="9" font-weight="bold" textLength="91" lengthAdjust="spacingAndGlyphs">-Phase angle (degree)</text>
<path d="M506.5,31.4 L526.5,13.5 L684.4,13.5 L684.4,144.6" stroke="#9a9a9a" stroke-width="0.7" fill="none" />
<line x1="526.5" y1="13.5" x2="526.5" y2="144.6" stroke="#9a9a9a" stroke-width="0.7" />
<path d="M506.5,163.3 L526.5,144.6 L684.4,144.6" stroke="#bdbdbd" stroke-width="0.6" fill="none" />
<line x1="664.6" y1="163.3" x2="684.4" y2="144.6" stroke="#9a9a9a" stroke-width="0.7" />
<path d="M506.5,64.4 L526.5,46.3 L684.4,46.3" stroke="#e6e6e6" stroke-width="0.7" fill="none" />
<path d="M506.5,97.4 L526.5,79.1 L684.4,79.1" stroke="#e6e6e6" stroke-width="0.7" fill="none" />
<path d="M506.5,130.4 L526.5,111.9 L684.4,111.9" stroke="#e6e6e6" stroke-width="0.7" fill="none" />
<line x1="506.5" y1="31.4" x2="506.5" y2="163.3" stroke="#222" stroke-width="1.0" />
<line x1="506.5" y1="163.3" x2="664.6" y2="163.3" stroke="#222" stroke-width="1.0" />
<line x1="503.5" y1="31.4" x2="506.5" y2="31.4" stroke="#222" stroke-width="0.9" />
<text x="495.75" y="37.2" font-size="10.8" font-weight="normal" text-anchor="middle" fill="#1a1a1a" >10</text>
<line x1="503.5" y1="64.4" x2="506.5" y2="64.4" stroke="#222" stroke-width="0.9" />
<text x="495.75" y="70.2" font-size="10.8" font-weight="normal" text-anchor="middle" fill="#1a1a1a" >9</text>
<line x1="503.5" y1="97.4" x2="506.5" y2="97.4" stroke="#222" stroke-width="0.9" />
<text x="495.75" y="103.2" font-size="10.8" font-weight="normal" text-anchor="middle" fill="#1a1a1a" >8</text>
<line x1="503.5" y1="130.4" x2="506.5" y2="130.4" stroke="#222" stroke-width="0.9" />
<text x="495.75" y="136.2" font-size="10.8" font-weight="normal" text-anchor="middle" fill="#1a1a1a" >7</text>
<line x1="503.5" y1="163.4" x2="506.5" y2="163.4" stroke="#222" stroke-width="0.9" />
<text x="495.75" y="169.2" font-size="10.8" font-weight="normal" text-anchor="middle" fill="#1a1a1a" >6</text>
<line x1="506.5" y1="163.3" x2="506.5" y2="165.9" stroke="#222" stroke-width="0.9" />
<line x1="522.31" y1="163.3" x2="522.31" y2="165.9" stroke="#222" stroke-width="0.9" />
<line x1="538.12" y1="163.3" x2="538.12" y2="165.9" stroke="#222" stroke-width="0.9" />
<line x1="553.93" y1="163.3" x2="553.93" y2="165.9" stroke="#222" stroke-width="0.9" />
<line x1="569.74" y1="163.3" x2="569.74" y2="165.9" stroke="#222" stroke-width="0.9" />
<line x1="585.55" y1="163.3" x2="585.55" y2="165.9" stroke="#222" stroke-width="0.9" />
<line x1="601.36" y1="163.3" x2="601.36" y2="165.9" stroke="#222" stroke-width="0.9" />
<line x1="617.17" y1="163.3" x2="617.17" y2="165.9" stroke="#222" stroke-width="0.9" />
<line x1="632.98" y1="163.3" x2="632.98" y2="165.9" stroke="#222" stroke-width="0.9" />
<line x1="648.79" y1="163.3" x2="648.79" y2="165.9" stroke="#222" stroke-width="0.9" />
<line x1="664.6" y1="163.3" x2="664.6" y2="165.9" stroke="#222" stroke-width="0.9" />
<text x="522.3" y="179.1" font-size="10.2" font-weight="normal" text-anchor="middle" fill="#1a1a1a" >0</text>
<text x="553.92" y="179.1" font-size="10.2" font-weight="normal" text-anchor="middle" fill="#1a1a1a" >2.5</text>
<text x="585.54" y="179.1" font-size="10.2" font-weight="normal" text-anchor="middle" fill="#1a1a1a" >5</text>
<text x="617.16" y="179.1" font-size="10.2" font-weight="normal" text-anchor="middle" fill="#1a1a1a" >7.5</text>
<text x="648.78" y="179.1" font-size="10.2" font-weight="normal" text-anchor="middle" fill="#1a1a1a" >10</text>
<text x="585.8" y="190.9" font-size="11.6" font-weight="bold" text-anchor="middle" fill="#000" textLength="164" lengthAdjust="spacingAndGlyphs">Concentration of MSN-TA (%)</text>
<path d="M530.8,67.8 L534,65.1 L534,152.9 L530.8,155.6 Z" fill="#579f97"/>
<path d="M518.3,67.8 L521.5,65.1 L534,65.1 L530.8,67.8 Z" fill="#5daaa1"/>
<rect x="518.3" y="67.8" width="12.5" height="87.8" fill="#63b5ac" />
<path d="M543.3,85.5 L546.5,82.8 L546.5,152.9 L543.3,155.6 Z" fill="#9dc1be"/>
<path d="M530.9,85.5 L534.1,82.8 L546.5,82.8 L543.3,85.5 Z" fill="#a8cecb"/>
<rect x="530.9" y="85.5" width="12.4" height="70.1" fill="#b3dcd8" />
<path d="M562.48,63.5 L565.68,60.8 L565.68,152.9 L562.48,155.6 Z" fill="#dca650"/>
<path d="M549.98,63.5 L553.18,60.8 L565.68,60.8 L562.48,63.5 Z" fill="#ebb156"/>
<rect x="549.98" y="63.5" width="12.5" height="92.1" fill="#fbbd5c" />
<path d="M574.98,81.3 L578.18,78.6 L578.18,152.9 L574.98,155.6 Z" fill="#dec192"/>
<path d="M562.58,81.3 L565.78,78.6 L578.18,78.6 L574.98,81.3 Z" fill="#edce9c"/>
<rect x="562.58" y="81.3" width="12.4" height="74.3" fill="#fddca6" />
<path d="M594.16,61.7 L597.36,59 L597.36,152.9 L594.16,155.6 Z" fill="#bc4f65"/>
<path d="M581.66,61.7 L584.86,59 L597.36,59 L594.16,61.7 Z" fill="#c9546c"/>
<rect x="581.66" y="61.7" width="12.5" height="93.9" fill="#d65a73" />
<path d="M606.66,69.9 L609.86,67.2 L609.86,152.9 L606.66,155.6 Z" fill="#cd8d98"/>
<path d="M594.26,69.9 L597.46,67.2 L609.86,67.2 L606.66,69.9 Z" fill="#db97a2"/>
<rect x="594.26" y="69.9" width="12.4" height="85.7" fill="#e9a1ad" />
<path d="M625.84,68.8 L629.04,66.1 L629.04,152.9 L625.84,155.6 Z" fill="#b28cc8"/>
<path d="M613.34,68.8 L616.54,66.1 L629.04,66.1 L625.84,68.8 Z" fill="#be96d6"/>
<rect x="613.34" y="68.8" width="12.5" height="86.8" fill="#cba0e4" />
<path d="M638.34,88 L641.54,85.3 L641.54,152.9 L638.34,155.6 Z" fill="#cbb8d4"/>
<path d="M625.94,88 L629.14,85.3 L641.54,85.3 L638.34,88 Z" fill="#d9c5e2"/>
<rect x="625.94" y="88" width="12.4" height="67.6" fill="#e7d2f1" />
<path d="M657.52,98 L660.72,95.3 L660.72,152.9 L657.52,155.6 Z" fill="#9494d8"/>
<path d="M645.02,98 L648.22,95.3 L660.72,95.3 L657.52,98 Z" fill="#9e9ee7"/>
<rect x="645.02" y="98" width="12.5" height="57.6" fill="#a9a9f6" />
<path d="M670.02,147.2 L673.22,144.5 L673.22,152.9 L670.02,155.6 Z" fill="#bcbcdc"/>
<path d="M657.62,147.2 L660.82,144.5 L673.22,144.5 L670.02,147.2 Z" fill="#c9c9eb"/>
<rect x="657.62" y="147.2" width="12.4" height="8.4" fill="#d6d6fb" />
<line x1="526.2" y1="65.3" x2="526.2" y2="68.5" stroke="#555" stroke-width="0.8" />
<line x1="524.6" y1="65.3" x2="527.8" y2="65.3" stroke="#444" stroke-width="1.0" />
<line x1="525" y1="68.5" x2="527.4" y2="68.5" stroke="#777" stroke-width="0.6" />
<line x1="538.7" y1="81.3" x2="538.7" y2="88" stroke="#555" stroke-width="0.8" />
<line x1="537.1" y1="81.3" x2="540.3" y2="81.3" stroke="#444" stroke-width="1.0" />
<line x1="537.5" y1="88" x2="539.9" y2="88" stroke="#777" stroke-width="0.6" />
<line x1="557.88" y1="60.5" x2="557.88" y2="63.8" stroke="#555" stroke-width="0.8" />
<line x1="556.28" y1="60.5" x2="559.48" y2="60.5" stroke="#444" stroke-width="1.0" />
<line x1="556.68" y1="63.8" x2="559.08" y2="63.8" stroke="#777" stroke-width="0.6" />
<line x1="570.38" y1="79" x2="570.38" y2="82" stroke="#555" stroke-width="0.8" />
<line x1="568.78" y1="79" x2="571.98" y2="79" stroke="#444" stroke-width="1.0" />
<line x1="569.18" y1="82" x2="571.58" y2="82" stroke="#777" stroke-width="0.6" />
<line x1="589.56" y1="58.9" x2="589.56" y2="61.6" stroke="#555" stroke-width="0.8" />
<line x1="587.96" y1="58.9" x2="591.16" y2="58.9" stroke="#444" stroke-width="1.0" />
<line x1="588.36" y1="61.6" x2="590.76" y2="61.6" stroke="#777" stroke-width="0.6" />
<line x1="602.06" y1="67.6" x2="602.06" y2="70.3" stroke="#555" stroke-width="0.8" />
<line x1="600.46" y1="67.6" x2="603.66" y2="67.6" stroke="#444" stroke-width="1.0" />
<line x1="600.86" y1="70.3" x2="603.26" y2="70.3" stroke="#777" stroke-width="0.6" />
<line x1="621.24" y1="65.4" x2="621.24" y2="68.3" stroke="#555" stroke-width="0.8" />
<line x1="619.64" y1="65.4" x2="622.84" y2="65.4" stroke="#444" stroke-width="1.0" />
<line x1="620.04" y1="68.3" x2="622.44" y2="68.3" stroke="#777" stroke-width="0.6" />
<line x1="633.74" y1="83" x2="633.74" y2="90" stroke="#555" stroke-width="0.8" />
<line x1="632.14" y1="83" x2="635.34" y2="83" stroke="#444" stroke-width="1.0" />
<line x1="632.54" y1="90" x2="634.94" y2="90" stroke="#777" stroke-width="0.6" />
<line x1="652.92" y1="93" x2="652.92" y2="100.3" stroke="#555" stroke-width="0.8" />
<line x1="651.32" y1="93" x2="654.52" y2="93" stroke="#444" stroke-width="1.0" />
<line x1="651.72" y1="100.3" x2="654.12" y2="100.3" stroke="#777" stroke-width="0.6" />
<line x1="665.42" y1="142.3" x2="665.42" y2="150.5" stroke="#555" stroke-width="0.8" />
<line x1="663.82" y1="142.3" x2="667.02" y2="142.3" stroke="#444" stroke-width="1.0" />
<line x1="664.22" y1="150.5" x2="666.62" y2="150.5" stroke="#777" stroke-width="0.6" />
<text x="565.6" y="29.2" font-size="9.3" font-weight="bold" text-anchor="end" fill="#000" >2&#160;&#160;Days</text>
<text x="565.6" y="40.3" font-size="9.3" font-weight="bold" text-anchor="end" fill="#000" >28 Days</text>
<rect x="566.5" y="21" width="20.2" height="9.6" fill="#8cc8c0" />
<rect x="566.5" y="32.4" width="20.2" height="9.6" fill="#c7e5e2" />
<rect x="589.85" y="21" width="20.2" height="9.6" fill="#fdd08a" />
<rect x="589.85" y="32.4" width="20.2" height="9.6" fill="#fee5c0" />
<rect x="613.2" y="21" width="20.2" height="9.6" fill="#df8090" />
<rect x="613.2" y="32.4" width="20.2" height="9.6" fill="#eeb9c3" />
<rect x="636.55" y="21" width="20.2" height="9.6" fill="#dcb8e8" />
<rect x="636.55" y="32.4" width="20.2" height="9.6" fill="#eddcf3" />
<rect x="659.9" y="21" width="20.2" height="9.6" fill="#c0c0f8" />
<rect x="659.9" y="32.4" width="20.2" height="9.6" fill="#dedefd" />
<text x="479.3" y="13" font-size="15.5" font-weight="bold" text-anchor="start" fill="#000" >b</text>
<text x="483.4" y="152.3" transform="rotate(-90 483.4 152.3)" font-size="11" font-weight="bold">log (|Z|<tspan font-size="8" dy="2">0.01Hz</tspan><tspan dy="-2" font-weight="normal"> / </tspan>Ω•cm<tspan font-size="7.5" dy="-4.5">2</tspan><tspan dy="4.5">)</tspan></text>
<path d="M506.5,245.9 L526.5,228.5 L684.4,228.5 L684.4,359.5" stroke="#9a9a9a" stroke-width="0.7" fill="none" />
<line x1="526.5" y1="228.5" x2="526.5" y2="359.5" stroke="#9a9a9a" stroke-width="0.7" />
<path d="M506.5,378.6 L526.5,359.5 L684.4,359.5" stroke="#bdbdbd" stroke-width="0.6" fill="none" />
<line x1="664.6" y1="378.6" x2="684.4" y2="359.5" stroke="#9a9a9a" stroke-width="0.7" />
<path d="M506.5,272.28 L526.5,254.54 L684.4,254.54" stroke="#e6e6e6" stroke-width="0.7" fill="none" />
<path d="M506.5,298.66 L526.5,280.58 L684.4,280.58" stroke="#e6e6e6" stroke-width="0.7" fill="none" />
<path d="M506.5,325.04 L526.5,306.63 L684.4,306.63" stroke="#e6e6e6" stroke-width="0.7" fill="none" />
<path d="M506.5,351.42 L526.5,332.67 L684.4,332.67" stroke="#e6e6e6" stroke-width="0.7" fill="none" />
<line x1="506.5" y1="245.9" x2="506.5" y2="378.6" stroke="#222" stroke-width="1.0" />
<line x1="506.5" y1="378.6" x2="664.6" y2="378.6" stroke="#222" stroke-width="1.0" />
<line x1="503.5" y1="245.9" x2="506.5" y2="245.9" stroke="#222" stroke-width="0.9" />
<text x="494.6" y="250.8" font-size="10.8" font-weight="normal" text-anchor="middle" fill="#1a1a1a" >5</text>
<line x1="503.5" y1="272.28" x2="506.5" y2="272.28" stroke="#222" stroke-width="0.9" />
<text x="494.6" y="277.18" font-size="10.8" font-weight="normal" text-anchor="middle" fill="#1a1a1a" >4</text>
<line x1="503.5" y1="298.66" x2="506.5" y2="298.66" stroke="#222" stroke-width="0.9" />
<text x="494.6" y="303.56" font-size="10.8" font-weight="normal" text-anchor="middle" fill="#1a1a1a" >3</text>
<line x1="503.5" y1="325.04" x2="506.5" y2="325.04" stroke="#222" stroke-width="0.9" />
<text x="494.6" y="329.94" font-size="10.8" font-weight="normal" text-anchor="middle" fill="#1a1a1a" >2</text>
<line x1="503.5" y1="351.42" x2="506.5" y2="351.42" stroke="#222" stroke-width="0.9" />
<text x="494.6" y="356.32" font-size="10.8" font-weight="normal" text-anchor="middle" fill="#1a1a1a" >1</text>
<line x1="503.5" y1="377.8" x2="506.5" y2="377.8" stroke="#222" stroke-width="0.9" />
<text x="494.6" y="382.7" font-size="10.8" font-weight="normal" text-anchor="middle" fill="#1a1a1a" >0</text>
<line x1="506.5" y1="378.6" x2="506.5" y2="381.2" stroke="#222" stroke-width="0.9" />
<line x1="522.31" y1="378.6" x2="522.31" y2="381.2" stroke="#222" stroke-width="0.9" />
<line x1="538.12" y1="378.6" x2="538.12" y2="381.2" stroke="#222" stroke-width="0.9" />
<line x1="553.93" y1="378.6" x2="553.93" y2="381.2" stroke="#222" stroke-width="0.9" />
<line x1="569.74" y1="378.6" x2="569.74" y2="381.2" stroke="#222" stroke-width="0.9" />
<line x1="585.55" y1="378.6" x2="585.55" y2="381.2" stroke="#222" stroke-width="0.9" />
<line x1="601.36" y1="378.6" x2="601.36" y2="381.2" stroke="#222" stroke-width="0.9" />
<line x1="617.17" y1="378.6" x2="617.17" y2="381.2" stroke="#222" stroke-width="0.9" />
<line x1="632.98" y1="378.6" x2="632.98" y2="381.2" stroke="#222" stroke-width="0.9" />
<line x1="648.79" y1="378.6" x2="648.79" y2="381.2" stroke="#222" stroke-width="0.9" />
<line x1="664.6" y1="378.6" x2="664.6" y2="381.2" stroke="#222" stroke-width="0.9" />
<text x="522.3" y="394.4" font-size="10.2" font-weight="normal" text-anchor="middle" fill="#1a1a1a" >0</text>
<text x="553.92" y="394.4" font-size="10.2" font-weight="normal" text-anchor="middle" fill="#1a1a1a" >2.5</text>
<text x="585.54" y="394.4" font-size="10.2" font-weight="normal" text-anchor="middle" fill="#1a1a1a" >5</text>
<text x="617.16" y="394.4" font-size="10.2" font-weight="normal" text-anchor="middle" fill="#1a1a1a" >7.5</text>
<text x="648.78" y="394.4" font-size="10.2" font-weight="normal" text-anchor="middle" fill="#1a1a1a" >10</text>
<text x="585.8" y="406.2" font-size="11.6" font-weight="bold" text-anchor="middle" fill="#000" textLength="164" lengthAdjust="spacingAndGlyphs">Concentration of MSN-TA (%)</text>
<path d="M530.8,363.4 L534,360.7 L534,367.6 L530.8,370.3 Z" fill="#579f97"/>
<path d="M518.3,363.4 L521.5,360.7 L534,360.7 L530.8,363.4 Z" fill="#5daaa1"/>
<rect x="518.3" y="363.4" width="12.5" height="6.9" fill="#63b5ac" />
<path d="M543.3,344.1 L546.5,341.4 L546.5,367.6 L543.3,370.3 Z" fill="#9dc1be"/>
<path d="M530.9,344.1 L534.1,341.4 L546.5,341.4 L543.3,344.1 Z" fill="#a8cecb"/>
<rect x="530.9" y="344.1" width="12.4" height="26.2" fill="#b3dcd8" />
<path d="M562.48,360.1 L565.68,357.4 L565.68,367.6 L562.48,370.3 Z" fill="#dca650"/>
<path d="M549.98,360.1 L553.18,357.4 L565.68,357.4 L562.48,360.1 Z" fill="#ebb156"/>
<rect x="549.98" y="360.1" width="12.5" height="10.2" fill="#fbbd5c" />
<path d="M574.98,348.2 L578.18,345.5 L578.18,367.6 L574.98,370.3 Z" fill="#dec192"/>
<path d="M562.58,348.2 L565.78,345.5 L578.18,345.5 L574.98,348.2 Z" fill="#edce9c"/>
<rect x="562.58" y="348.2" width="12.4" height="22.1" fill="#fddca6" />
<path d="M594.16,359.3 L597.36,356.6 L597.36,367.6 L594.16,370.3 Z" fill="#bc4f65"/>
<path d="M581.66,359.3 L584.86,356.6 L597.36,356.6 L594.16,359.3 Z" fill="#c9546c"/>
<rect x="581.66" y="359.3" width="12.5" height="11" fill="#d65a73" />
<path d="M606.66,350.5 L609.86,347.8 L609.86,367.6 L606.66,370.3 Z" fill="#cd8d98"/>
<path d="M594.26,350.5 L597.46,347.8 L609.86,347.8 L606.66,350.5 Z" fill="#db97a2"/>
<rect x="594.26" y="350.5" width="12.4" height="19.8" fill="#e9a1ad" />
<path d="M625.84,351 L629.04,348.3 L629.04,367.6 L625.84,370.3 Z" fill="#b28cc8"/>
<path d="M613.34,351 L616.54,348.3 L629.04,348.3 L625.84,351 Z" fill="#be96d6"/>
<rect x="613.34" y="351" width="12.5" height="19.3" fill="#cba0e4" />
<path d="M638.34,338.6 L641.54,335.9 L641.54,367.6 L638.34,370.3 Z" fill="#cbb8d4"/>
<path d="M625.94,338.6 L629.14,335.9 L641.54,335.9 L638.34,338.6 Z" fill="#d9c5e2"/>
<rect x="625.94" y="338.6" width="12.4" height="31.7" fill="#e7d2f1" />
<path d="M657.52,334.5 L660.72,331.8 L660.72,367.6 L657.52,370.3 Z" fill="#9494d8"/>
<path d="M645.02,334.5 L648.22,331.8 L660.72,331.8 L657.52,334.5 Z" fill="#9e9ee7"/>
<rect x="645.02" y="334.5" width="12.5" height="35.8" fill="#a9a9f6" />
<path d="M670.02,268.9 L673.22,266.2 L673.22,367.6 L670.02,370.3 Z" fill="#bcbcdc"/>
<path d="M657.62,268.9 L660.82,266.2 L673.22,266.2 L670.02,268.9 Z" fill="#c9c9eb"/>
<rect x="657.62" y="268.9" width="12.4" height="101.4" fill="#d6d6fb" />
<line x1="526.2" y1="358.7" x2="526.2" y2="363" stroke="#555" stroke-width="0.8" />
<line x1="524.6" y1="358.7" x2="527.8" y2="358.7" stroke="#444" stroke-width="1.0" />
<line x1="525" y1="363" x2="527.4" y2="363" stroke="#777" stroke-width="0.6" />
<line x1="538.7" y1="341.9" x2="538.7" y2="345" stroke="#555" stroke-width="0.8" />
<line x1="537.1" y1="341.9" x2="540.3" y2="341.9" stroke="#444" stroke-width="1.0" />
<line x1="537.5" y1="345" x2="539.9" y2="345" stroke="#777" stroke-width="0.6" />
<line x1="557.88" y1="357.9" x2="557.88" y2="361" stroke="#555" stroke-width="0.8" />
<line x1="556.28" y1="357.9" x2="559.48" y2="357.9" stroke="#444" stroke-width="1.0" />
<line x1="556.68" y1="361" x2="559.08" y2="361" stroke="#777" stroke-width="0.6" />
<line x1="570.38" y1="345.5" x2="570.38" y2="349" stroke="#555" stroke-width="0.8" />
<line x1="568.78" y1="345.5" x2="571.98" y2="345.5" stroke="#444" stroke-width="1.0" />
<line x1="569.18" y1="349" x2="571.58" y2="349" stroke="#777" stroke-width="0.6" />
<line x1="589.56" y1="356.3" x2="589.56" y2="359" stroke="#555" stroke-width="0.8" />
<line x1="587.96" y1="356.3" x2="591.16" y2="356.3" stroke="#444" stroke-width="1.0" />
<line x1="588.36" y1="359" x2="590.76" y2="359" stroke="#777" stroke-width="0.6" />
<line x1="602.06" y1="348.8" x2="602.06" y2="351.5" stroke="#555" stroke-width="0.8" />
<line x1="600.46" y1="348.8" x2="603.66" y2="348.8" stroke="#444" stroke-width="1.0" />
<line x1="600.86" y1="351.5" x2="603.26" y2="351.5" stroke="#777" stroke-width="0.6" />
<line x1="621.24" y1="349" x2="621.24" y2="352" stroke="#555" stroke-width="0.8" />
<line x1="619.64" y1="349" x2="622.84" y2="349" stroke="#444" stroke-width="1.0" />
<line x1="620.04" y1="352" x2="622.44" y2="352" stroke="#777" stroke-width="0.6" />
<line x1="633.74" y1="334.5" x2="633.74" y2="339" stroke="#555" stroke-width="0.8" />
<line x1="632.14" y1="334.5" x2="635.34" y2="334.5" stroke="#444" stroke-width="1.0" />
<line x1="632.54" y1="339" x2="634.94" y2="339" stroke="#777" stroke-width="0.6" />
<line x1="652.92" y1="332.5" x2="652.92" y2="335.5" stroke="#555" stroke-width="0.8" />
<line x1="651.32" y1="332.5" x2="654.52" y2="332.5" stroke="#444" stroke-width="1.0" />
<line x1="651.72" y1="335.5" x2="654.12" y2="335.5" stroke="#777" stroke-width="0.6" />
<line x1="665.42" y1="264" x2="665.42" y2="270" stroke="#555" stroke-width="0.8" />
<line x1="663.82" y1="264" x2="667.02" y2="264" stroke="#444" stroke-width="1.0" />
<line x1="664.22" y1="270" x2="666.62" y2="270" stroke="#777" stroke-width="0.6" />
<text x="536.3" y="250.8" font-size="9.1" font-weight="bold" text-anchor="start" fill="#000" >2 Days</text>
<text x="581" y="250.8" font-size="9.1" font-weight="bold" text-anchor="start" fill="#000" >28 Days</text>
<rect x="538.7" y="254.9" width="20.1" height="9.7" fill="#8cc8c0" />
<rect x="585.2" y="254.9" width="20.1" height="9.7" fill="#c7e5e2" />
<rect x="538.7" y="266.2" width="20.1" height="9.7" fill="#fdd08a" />
<rect x="585.2" y="266.2" width="20.1" height="9.7" fill="#fee5c0" />
<rect x="538.7" y="277.5" width="20.1" height="9.7" fill="#df8090" />
<rect x="585.2" y="277.5" width="20.1" height="9.7" fill="#eeb9c3" />
<rect x="538.7" y="288.8" width="20.1" height="9.7" fill="#dcb8e8" />
<rect x="585.2" y="288.8" width="20.1" height="9.7" fill="#eddcf3" />
<rect x="538.7" y="300.1" width="20.1" height="9.7" fill="#c0c0f8" />
<rect x="585.2" y="300.1" width="20.1" height="9.7" fill="#dedefd" />
<text x="479.3" y="226.1" font-size="15.5" font-weight="bold" text-anchor="start" fill="#000" >d</text>
<text x="484.5" y="343.6" transform="rotate(-90 484.5 343.6)" font-size="10.5" font-weight="bold" textLength="62" lengthAdjust="spacing">log (<tspan font-style="italic">f</tspan><tspan font-size="8" dy="2">b</tspan><tspan dy="-2"> / Hz)</tspan></text>
</g>
</svg></body></html>
